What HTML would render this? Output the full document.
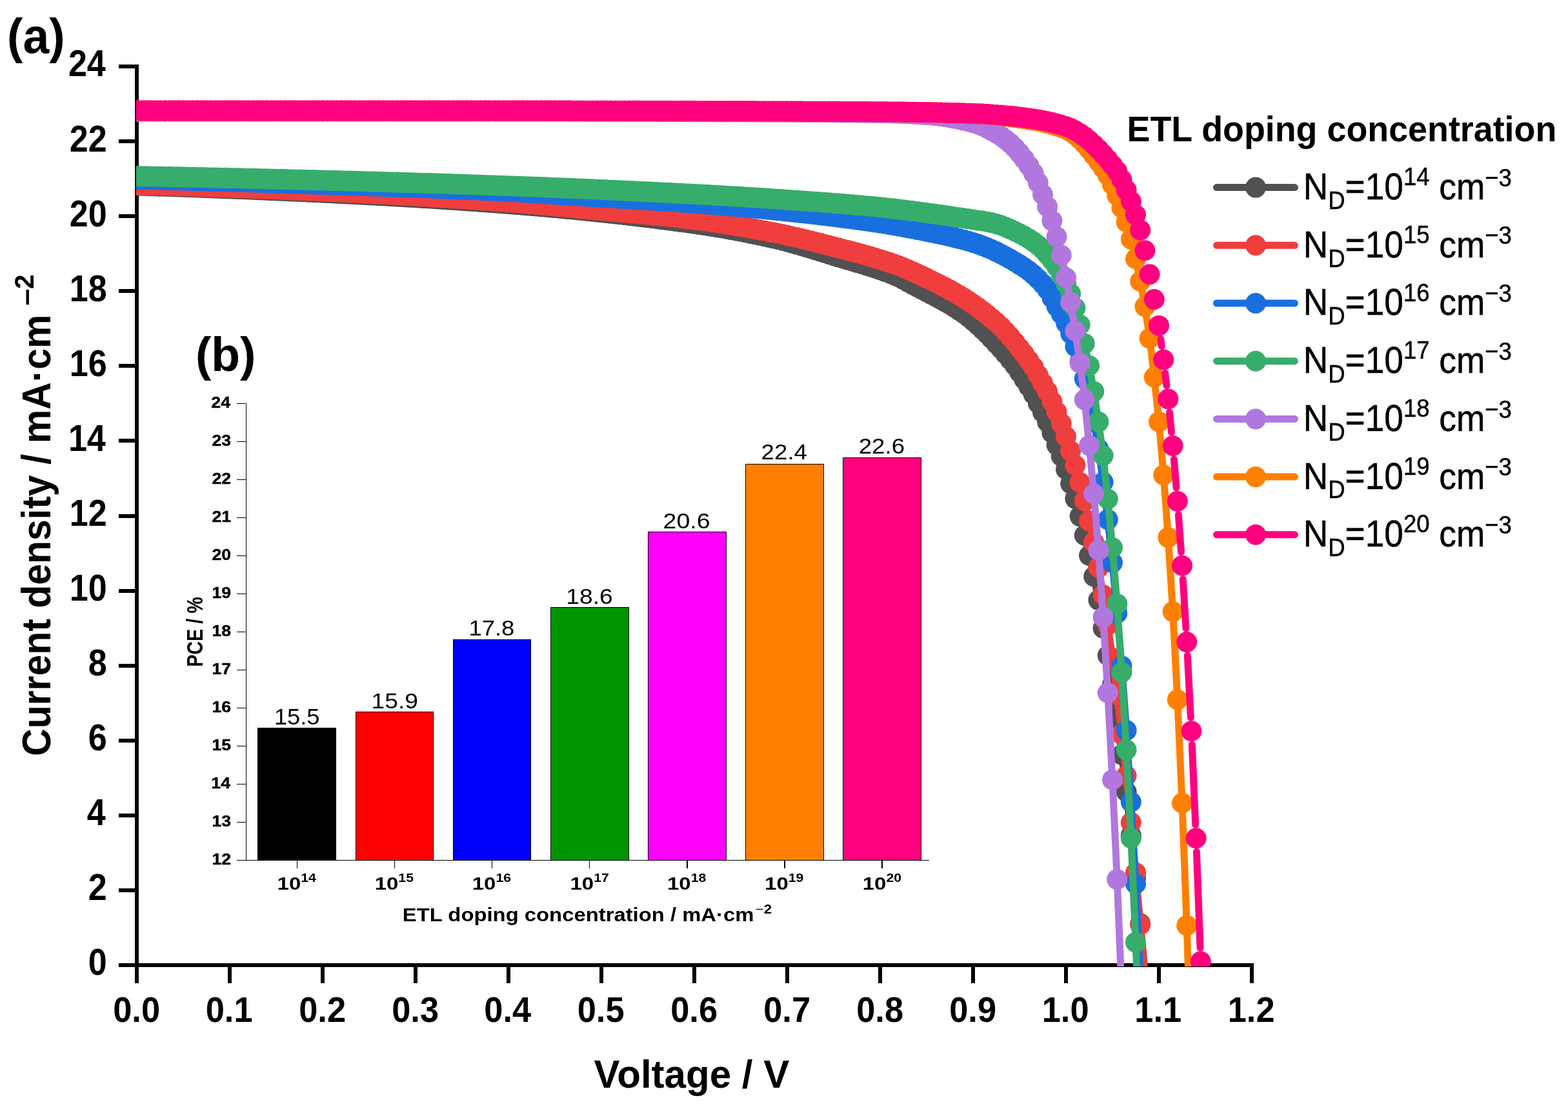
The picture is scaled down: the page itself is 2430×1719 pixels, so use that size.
<!DOCTYPE html>
<html lang="en"><head><meta charset="utf-8"><title>ETL doping concentration</title>
<style>html,body{margin:0;padding:0;background:#fff}svg{display:block}</style></head>
<body>
<svg xmlns="http://www.w3.org/2000/svg" width="2430" height="1719" viewBox="0 0 2430 1719">
<defs><clipPath id="pc"><rect x="211" y="60" width="1800" height="1438"/></clipPath></defs>
<rect width="2430" height="1719" fill="#fff"/>
<g shape-rendering="crispEdges">
<rect x="399.9" y="1128.1" width="120.3" height="205.4" fill="#000000" stroke="#000" stroke-width="1"/>
<rect x="551" y="1103.4" width="120.3" height="230.1" fill="#FF0000" stroke="#000" stroke-width="1"/>
<rect x="702.1" y="991.3" width="120.3" height="342.2" fill="#0000FF" stroke="#000" stroke-width="1"/>
<rect x="853.2" y="941.4" width="121.2" height="392.1" fill="#009400" stroke="#000" stroke-width="1"/>
<rect x="1004.3" y="824.5" width="121.2" height="509" fill="#FF00FF" stroke="#000" stroke-width="1"/>
<rect x="1155.4" y="719.6" width="121.2" height="613.9" fill="#FF8000" stroke="#000" stroke-width="1"/>
<rect x="1306.5" y="709.5" width="121.2" height="624" fill="#FF007F" stroke="#000" stroke-width="1"/>
<path d="M381.8 625 V1333.5 M367 1333.5 H1440" stroke="#000" stroke-width="1.3" fill="none"/>
<path d="M367 1333.5 H381.8 M367 1274.5 H381.8 M367 1215.5 H381.8 M367 1156.5 H381.8 M367 1097.5 H381.8 M367 1038.5 H381.8 M367 979.5 H381.8 M367 920.5 H381.8 M367 861.5 H381.8 M367 802.5 H381.8 M367 743.5 H381.8 M367 684.5 H381.8 M367 625.5 H381.8 M460.5 1333.5 V1345.7 M611.6 1333.5 V1345.7 M762.7 1333.5 V1345.7 M913.8 1333.5 V1345.7 M1064.9 1333.5 V1345.7 M1216 1333.5 V1345.7 M1367.1 1333.5 V1345.7 " stroke="#000" stroke-width="1.3" fill="none"/>
</g>
<g shape-rendering="crispEdges" fill="#000">
<rect x="209" y="100" width="6" height="1424"/>
<rect x="184" y="1493" width="1759" height="6"/>
<rect x="184" y="1493" width="27" height="6"/>
<rect x="184" y="1377" width="27" height="6"/>
<rect x="184" y="1261" width="27" height="6"/>
<rect x="184" y="1145" width="27" height="6"/>
<rect x="184" y="1029" width="27" height="6"/>
<rect x="184" y="913" width="27" height="6"/>
<rect x="184" y="797" width="27" height="6"/>
<rect x="184" y="680" width="27" height="6"/>
<rect x="184" y="564" width="27" height="6"/>
<rect x="184" y="448" width="27" height="6"/>
<rect x="184" y="332" width="27" height="6"/>
<rect x="184" y="216" width="27" height="6"/>
<rect x="184" y="100" width="27" height="6"/>
<rect x="353" y="1496" width="6" height="28"/>
<rect x="497" y="1496" width="6" height="28"/>
<rect x="641" y="1496" width="6" height="28"/>
<rect x="785" y="1496" width="6" height="28"/>
<rect x="929" y="1496" width="6" height="28"/>
<rect x="1073" y="1496" width="6" height="28"/>
<rect x="1217" y="1496" width="6" height="28"/>
<rect x="1361" y="1496" width="6" height="28"/>
<rect x="1505" y="1496" width="6" height="28"/>
<rect x="1649" y="1496" width="6" height="28"/>
<rect x="1793" y="1496" width="6" height="28"/>
<rect x="1937" y="1496" width="6" height="28"/>
</g>
<g clip-path="url(#pc)">
<path d="M212 287.61L219.2 287.81L226.4 288.01L233.6 288.22L240.8 288.43L248 288.65L255.2 288.87L262.4 289.09L269.6 289.32L276.8 289.56L284 289.8L291.2 290.04L298.4 290.29L305.6 290.54L312.8 290.8L320 291.06L327.2 291.32L334.4 291.59L341.6 291.86L348.8 292.13L356 292.41L363.2 292.69L370.4 292.98L377.6 293.27L384.8 293.56L392 293.86L399.2 294.15L406.4 294.46L413.6 294.76L420.8 295.07L428 295.38L435.2 295.69L442.4 296.01L449.6 296.33L456.8 296.65L464 296.98L471.2 297.3L478.4 297.63L485.6 297.96L492.8 298.3L500 298.63L507.2 298.97L514.4 299.32L521.6 299.66L528.8 300.02L536 300.37L543.2 300.73L550.4 301.09L557.6 301.46L564.8 301.83L572 302.21L579.2 302.59L586.4 302.98L593.6 303.37L600.8 303.77L608 304.17L615.2 304.57L622.4 304.98L629.6 305.4L636.8 305.82L644 306.25L651.2 306.68L658.4 307.12L665.6 307.56L672.8 308.01L680 308.47L687.2 308.93L694.4 309.39L701.6 309.87L708.8 310.35L716 310.83L723.2 311.32L730.4 311.82L737.6 312.33L744.8 312.84L752 313.36L759.2 313.88L766.4 314.41L773.6 314.95L780.8 315.49L788 316.05L795.2 316.61L802.4 317.18L809.6 317.76L816.8 318.35L824 318.94L831.2 319.55L838.4 320.17L845.6 320.8L852.8 321.44L860 322.09L867.2 322.74L874.4 323.41L881.6 324.09L888.8 324.78L896 325.49L903.2 326.2L910.4 326.92L917.6 327.65L924.8 328.4L932 329.16L939.2 329.92L946.4 330.7L953.6 331.49L960.8 332.3L968 333.11L975.2 333.94L982.4 334.77L989.6 335.62L996.8 336.49L1004 337.36L1011.2 338.25L1018.4 339.15L1025.6 340.06L1032.8 340.98L1040 341.92L1047.2 342.87L1054.4 343.84L1061.6 344.81L1068.8 345.8L1076 346.81L1083.2 347.84L1090.4 348.91L1097.6 350.01L1104.8 351.16L1112 352.34L1119.2 353.56L1126.4 354.81L1133.6 356.11L1140.8 357.43L1148 358.8L1155.2 360.2L1162.4 361.64L1169.6 363.11L1176.8 364.62L1184 366.16L1191.2 367.74L1198.4 369.35L1205.6 371.02L1212.8 372.79L1220 374.65L1227.2 376.6L1234.4 378.62L1241.6 380.7L1248.8 382.83L1256 385.01L1263.2 387.21L1270.4 389.44L1277.6 391.67L1284.8 393.91L1292 396.13L1299.2 398.33L1306.4 400.48L1313.6 402.6L1320.8 404.72L1328 406.84L1335.2 408.99L1342.4 411.19L1349.6 413.45L1356.8 415.8L1364 418.25L1371.2 420.82L1378.4 423.53L1385.6 426.39L1392.8 429.51L1400 433.19L1407.2 437.17L1414.4 441.14L1421.6 444.97L1428.8 448.72L1436 452.46L1443.2 456.2L1450.4 459.99L1457.6 463.87L1464.8 467.89L1472 472.06L1479.2 476.45L1486.4 481.08L1493.6 486.04L1500.8 491.51L1508 497.44L1515.2 503.71L1522.4 510.36L1529.6 517.54L1536.8 525.05L1544 532.69L1551.2 540.48L1558.4 548.75L1565.6 557.35L1572.8 566.52L1580 576.82L1587.2 587.93L1594.4 599.21L1601.6 610.95L1608.8 625.06L1616 639.25L1623.2 654.16L1630.4 671.04L1637.6 689.82L1644.8 707.24L1652 727.55L1659.2 749.61L1666.4 772.82L1673.6 800.1L1680.8 829.7L1688 861.04L1695.2 893.54L1702.4 930.11L1709.6 973.64L1716.8 1016.01L1724 1060.7L1731.2 1112.94L1738.4 1169.82L1745.6 1227.27L1752.8 1295.18L1760 1361.35L1767.2 1431.58L1774.4 1507.61" stroke="#515151" stroke-width="11" stroke-linejoin="round" stroke-linecap="round" fill="none"/>
<g fill="#515151"><circle cx="212" cy="287.61" r="16"/><circle cx="219.2" cy="287.81" r="16"/><circle cx="226.4" cy="288.01" r="16"/><circle cx="233.6" cy="288.22" r="16"/><circle cx="240.8" cy="288.43" r="16"/><circle cx="248" cy="288.65" r="16"/><circle cx="255.2" cy="288.87" r="16"/><circle cx="262.4" cy="289.09" r="16"/><circle cx="269.6" cy="289.32" r="16"/><circle cx="276.8" cy="289.56" r="16"/><circle cx="284" cy="289.8" r="16"/><circle cx="291.2" cy="290.04" r="16"/><circle cx="298.4" cy="290.29" r="16"/><circle cx="305.6" cy="290.54" r="16"/><circle cx="312.8" cy="290.8" r="16"/><circle cx="320" cy="291.06" r="16"/><circle cx="327.2" cy="291.32" r="16"/><circle cx="334.4" cy="291.59" r="16"/><circle cx="341.6" cy="291.86" r="16"/><circle cx="348.8" cy="292.13" r="16"/><circle cx="356" cy="292.41" r="16"/><circle cx="363.2" cy="292.69" r="16"/><circle cx="370.4" cy="292.98" r="16"/><circle cx="377.6" cy="293.27" r="16"/><circle cx="384.8" cy="293.56" r="16"/><circle cx="392" cy="293.86" r="16"/><circle cx="399.2" cy="294.15" r="16"/><circle cx="406.4" cy="294.46" r="16"/><circle cx="413.6" cy="294.76" r="16"/><circle cx="420.8" cy="295.07" r="16"/><circle cx="428" cy="295.38" r="16"/><circle cx="435.2" cy="295.69" r="16"/><circle cx="442.4" cy="296.01" r="16"/><circle cx="449.6" cy="296.33" r="16"/><circle cx="456.8" cy="296.65" r="16"/><circle cx="464" cy="296.98" r="16"/><circle cx="471.2" cy="297.3" r="16"/><circle cx="478.4" cy="297.63" r="16"/><circle cx="485.6" cy="297.96" r="16"/><circle cx="492.8" cy="298.3" r="16"/><circle cx="500" cy="298.63" r="16"/><circle cx="507.2" cy="298.97" r="16"/><circle cx="514.4" cy="299.32" r="16"/><circle cx="521.6" cy="299.66" r="16"/><circle cx="528.8" cy="300.02" r="16"/><circle cx="536" cy="300.37" r="16"/><circle cx="543.2" cy="300.73" r="16"/><circle cx="550.4" cy="301.09" r="16"/><circle cx="557.6" cy="301.46" r="16"/><circle cx="564.8" cy="301.83" r="16"/><circle cx="572" cy="302.21" r="16"/><circle cx="579.2" cy="302.59" r="16"/><circle cx="586.4" cy="302.98" r="16"/><circle cx="593.6" cy="303.37" r="16"/><circle cx="600.8" cy="303.77" r="16"/><circle cx="608" cy="304.17" r="16"/><circle cx="615.2" cy="304.57" r="16"/><circle cx="622.4" cy="304.98" r="16"/><circle cx="629.6" cy="305.4" r="16"/><circle cx="636.8" cy="305.82" r="16"/><circle cx="644" cy="306.25" r="16"/><circle cx="651.2" cy="306.68" r="16"/><circle cx="658.4" cy="307.12" r="16"/><circle cx="665.6" cy="307.56" r="16"/><circle cx="672.8" cy="308.01" r="16"/><circle cx="680" cy="308.47" r="16"/><circle cx="687.2" cy="308.93" r="16"/><circle cx="694.4" cy="309.39" r="16"/><circle cx="701.6" cy="309.87" r="16"/><circle cx="708.8" cy="310.35" r="16"/><circle cx="716" cy="310.83" r="16"/><circle cx="723.2" cy="311.32" r="16"/><circle cx="730.4" cy="311.82" r="16"/><circle cx="737.6" cy="312.33" r="16"/><circle cx="744.8" cy="312.84" r="16"/><circle cx="752" cy="313.36" r="16"/><circle cx="759.2" cy="313.88" r="16"/><circle cx="766.4" cy="314.41" r="16"/><circle cx="773.6" cy="314.95" r="16"/><circle cx="780.8" cy="315.49" r="16"/><circle cx="788" cy="316.05" r="16"/><circle cx="795.2" cy="316.61" r="16"/><circle cx="802.4" cy="317.18" r="16"/><circle cx="809.6" cy="317.76" r="16"/><circle cx="816.8" cy="318.35" r="16"/><circle cx="824" cy="318.94" r="16"/><circle cx="831.2" cy="319.55" r="16"/><circle cx="838.4" cy="320.17" r="16"/><circle cx="845.6" cy="320.8" r="16"/><circle cx="852.8" cy="321.44" r="16"/><circle cx="860" cy="322.09" r="16"/><circle cx="867.2" cy="322.74" r="16"/><circle cx="874.4" cy="323.41" r="16"/><circle cx="881.6" cy="324.09" r="16"/><circle cx="888.8" cy="324.78" r="16"/><circle cx="896" cy="325.49" r="16"/><circle cx="903.2" cy="326.2" r="16"/><circle cx="910.4" cy="326.92" r="16"/><circle cx="917.6" cy="327.65" r="16"/><circle cx="924.8" cy="328.4" r="16"/><circle cx="932" cy="329.16" r="16"/><circle cx="939.2" cy="329.92" r="16"/><circle cx="946.4" cy="330.7" r="16"/><circle cx="953.6" cy="331.49" r="16"/><circle cx="960.8" cy="332.3" r="16"/><circle cx="968" cy="333.11" r="16"/><circle cx="975.2" cy="333.94" r="16"/><circle cx="982.4" cy="334.77" r="16"/><circle cx="989.6" cy="335.62" r="16"/><circle cx="996.8" cy="336.49" r="16"/><circle cx="1004" cy="337.36" r="16"/><circle cx="1011.2" cy="338.25" r="16"/><circle cx="1018.4" cy="339.15" r="16"/><circle cx="1025.6" cy="340.06" r="16"/><circle cx="1032.8" cy="340.98" r="16"/><circle cx="1040" cy="341.92" r="16"/><circle cx="1047.2" cy="342.87" r="16"/><circle cx="1054.4" cy="343.84" r="16"/><circle cx="1061.6" cy="344.81" r="16"/><circle cx="1068.8" cy="345.8" r="16"/><circle cx="1076" cy="346.81" r="16"/><circle cx="1083.2" cy="347.84" r="16"/><circle cx="1090.4" cy="348.91" r="16"/><circle cx="1097.6" cy="350.01" r="16"/><circle cx="1104.8" cy="351.16" r="16"/><circle cx="1112" cy="352.34" r="16"/><circle cx="1119.2" cy="353.56" r="16"/><circle cx="1126.4" cy="354.81" r="16"/><circle cx="1133.6" cy="356.11" r="16"/><circle cx="1140.8" cy="357.43" r="16"/><circle cx="1148" cy="358.8" r="16"/><circle cx="1155.2" cy="360.2" r="16"/><circle cx="1162.4" cy="361.64" r="16"/><circle cx="1169.6" cy="363.11" r="16"/><circle cx="1176.8" cy="364.62" r="16"/><circle cx="1184" cy="366.16" r="16"/><circle cx="1191.2" cy="367.74" r="16"/><circle cx="1198.4" cy="369.35" r="16"/><circle cx="1205.6" cy="371.02" r="16"/><circle cx="1212.8" cy="372.79" r="16"/><circle cx="1220" cy="374.65" r="16"/><circle cx="1227.2" cy="376.6" r="16"/><circle cx="1234.4" cy="378.62" r="16"/><circle cx="1241.6" cy="380.7" r="16"/><circle cx="1248.8" cy="382.83" r="16"/><circle cx="1256" cy="385.01" r="16"/><circle cx="1263.2" cy="387.21" r="16"/><circle cx="1270.4" cy="389.44" r="16"/><circle cx="1277.6" cy="391.67" r="16"/><circle cx="1284.8" cy="393.91" r="16"/><circle cx="1292" cy="396.13" r="16"/><circle cx="1299.2" cy="398.33" r="16"/><circle cx="1306.4" cy="400.48" r="16"/><circle cx="1313.6" cy="402.6" r="16"/><circle cx="1320.8" cy="404.72" r="16"/><circle cx="1328" cy="406.84" r="16"/><circle cx="1335.2" cy="408.99" r="16"/><circle cx="1342.4" cy="411.19" r="16"/><circle cx="1349.6" cy="413.45" r="16"/><circle cx="1356.8" cy="415.8" r="16"/><circle cx="1364" cy="418.25" r="16"/><circle cx="1371.2" cy="420.82" r="16"/><circle cx="1378.4" cy="423.53" r="16"/><circle cx="1385.6" cy="426.39" r="16"/><circle cx="1392.8" cy="429.51" r="16"/><circle cx="1400" cy="433.19" r="16"/><circle cx="1407.2" cy="437.17" r="16"/><circle cx="1414.4" cy="441.14" r="16"/><circle cx="1421.6" cy="444.97" r="16"/><circle cx="1428.8" cy="448.72" r="16"/><circle cx="1436" cy="452.46" r="16"/><circle cx="1443.2" cy="456.2" r="16"/><circle cx="1450.4" cy="459.99" r="16"/><circle cx="1457.6" cy="463.87" r="16"/><circle cx="1464.8" cy="467.89" r="16"/><circle cx="1472" cy="472.06" r="16"/><circle cx="1479.2" cy="476.45" r="16"/><circle cx="1486.4" cy="481.08" r="16"/><circle cx="1493.6" cy="486.04" r="16"/><circle cx="1500.8" cy="491.51" r="16"/><circle cx="1508" cy="497.44" r="16"/><circle cx="1515.2" cy="503.71" r="16"/><circle cx="1522.4" cy="510.36" r="16"/><circle cx="1529.6" cy="517.54" r="16"/><circle cx="1536.8" cy="525.05" r="16"/><circle cx="1544" cy="532.69" r="16"/><circle cx="1551.2" cy="540.48" r="16"/><circle cx="1558.4" cy="548.75" r="16"/><circle cx="1565.6" cy="557.35" r="16"/><circle cx="1572.8" cy="566.52" r="16"/><circle cx="1580" cy="576.82" r="16"/><circle cx="1587.2" cy="587.93" r="16"/><circle cx="1594.4" cy="599.21" r="16"/><circle cx="1601.6" cy="610.95" r="16"/><circle cx="1608.8" cy="625.06" r="16"/><circle cx="1616" cy="639.25" r="16"/><circle cx="1623.2" cy="654.16" r="16"/><circle cx="1630.4" cy="671.04" r="16"/><circle cx="1637.6" cy="689.82" r="16"/><circle cx="1644.8" cy="707.24" r="16"/><circle cx="1652" cy="727.55" r="16"/><circle cx="1659.2" cy="749.61" r="16"/><circle cx="1666.4" cy="772.82" r="16"/><circle cx="1673.6" cy="800.1" r="16"/><circle cx="1680.8" cy="829.7" r="16"/><circle cx="1688" cy="861.04" r="16"/><circle cx="1695.2" cy="893.54" r="16"/><circle cx="1702.4" cy="930.11" r="16"/><circle cx="1709.6" cy="973.64" r="16"/><circle cx="1716.8" cy="1016.01" r="16"/><circle cx="1724" cy="1060.7" r="16"/><circle cx="1731.2" cy="1112.94" r="16"/><circle cx="1738.4" cy="1169.82" r="16"/><circle cx="1745.6" cy="1227.27" r="16"/><circle cx="1752.8" cy="1295.18" r="16"/><circle cx="1760" cy="1361.35" r="16"/><circle cx="1767.2" cy="1431.58" r="16"/></g>
<path d="M212 286.45L219.2 286.61L226.4 286.78L233.6 286.95L240.8 287.13L248 287.31L255.2 287.5L262.4 287.69L269.6 287.89L276.8 288.09L284 288.3L291.2 288.52L298.4 288.73L305.6 288.95L312.8 289.18L320 289.41L327.2 289.64L334.4 289.88L341.6 290.13L348.8 290.37L356 290.62L363.2 290.88L370.4 291.13L377.6 291.4L384.8 291.66L392 291.93L399.2 292.2L406.4 292.48L413.6 292.76L420.8 293.04L428 293.32L435.2 293.61L442.4 293.9L449.6 294.19L456.8 294.49L464 294.79L471.2 295.09L478.4 295.39L485.6 295.7L492.8 296L500 296.31L507.2 296.63L514.4 296.95L521.6 297.27L528.8 297.6L536 297.94L543.2 298.28L550.4 298.63L557.6 298.98L564.8 299.34L572 299.71L579.2 300.08L586.4 300.45L593.6 300.83L600.8 301.22L608 301.61L615.2 302.01L622.4 302.41L629.6 302.82L636.8 303.23L644 303.65L651.2 304.08L658.4 304.51L665.6 304.94L672.8 305.38L680 305.83L687.2 306.28L694.4 306.74L701.6 307.2L708.8 307.67L716 308.14L723.2 308.62L730.4 309.1L737.6 309.59L744.8 310.08L752 310.58L759.2 311.08L766.4 311.59L773.6 312.1L780.8 312.62L788 313.14L795.2 313.69L802.4 314.25L809.6 314.84L816.8 315.46L824 316.09L831.2 316.73L838.4 317.39L845.6 318.06L852.8 318.74L860 319.42L867.2 320.11L874.4 320.79L881.6 321.47L888.8 322.14L896 322.81L903.2 323.46L910.4 324.11L917.6 324.75L924.8 325.39L932 326.03L939.2 326.67L946.4 327.31L953.6 327.95L960.8 328.59L968 329.23L975.2 329.89L982.4 330.55L989.6 331.22L996.8 331.89L1004 332.58L1011.2 333.29L1018.4 334L1025.6 334.74L1032.8 335.49L1040 336.26L1047.2 337.04L1054.4 337.85L1061.6 338.69L1068.8 339.54L1076 340.42L1083.2 341.34L1090.4 342.29L1097.6 343.28L1104.8 344.3L1112 345.36L1119.2 346.45L1126.4 347.57L1133.6 348.72L1140.8 349.91L1148 351.12L1155.2 352.36L1162.4 353.63L1169.6 354.93L1176.8 356.24L1184 357.59L1191.2 358.95L1198.4 360.34L1205.6 361.76L1212.8 363.25L1220 364.79L1227.2 366.38L1234.4 368.03L1241.6 369.71L1248.8 371.44L1256 373.2L1263.2 375L1270.4 376.82L1277.6 378.66L1284.8 380.52L1292 382.39L1299.2 384.27L1306.4 386.14L1313.6 388.03L1320.8 389.92L1328 391.84L1335.2 393.8L1342.4 395.8L1349.6 397.86L1356.8 399.98L1364 402.18L1371.2 404.46L1378.4 406.83L1385.6 409.31L1392.8 411.91L1400 414.72L1407.2 417.72L1414.4 420.89L1421.6 424.19L1428.8 427.6L1436 431.1L1443.2 434.65L1450.4 438.24L1457.6 441.84L1464.8 445.52L1472 449.32L1479.2 453.28L1486.4 457.44L1493.6 461.84L1500.8 466.49L1508 471.37L1515.2 476.5L1522.4 481.85L1529.6 487.44L1536.8 493.31L1544 499.56L1551.2 506.3L1558.4 513.71L1565.6 521.85L1572.8 530.54L1580 539.58L1587.2 548.87L1594.4 558.79L1601.6 568.88L1608.8 581.2L1616 594.03L1623.2 606.81L1630.4 622.38L1637.6 638.55L1644.8 656.47L1652 676.47L1659.2 699.11L1666.4 721.17L1673.6 747.86L1680.8 776.3L1688 807.65L1695.2 840.73L1702.4 879.62L1709.6 921.98L1716.8 969L1724 1020.07L1731.2 1077.53L1738.4 1138.47L1745.6 1202.32L1752.8 1274.87L1760 1352.64L1767.2 1433.32L1774.4 1519.22" stroke="#F03E3E" stroke-width="11" stroke-linejoin="round" stroke-linecap="round" fill="none"/>
<g fill="#F03E3E"><circle cx="212" cy="286.45" r="16"/><circle cx="219.2" cy="286.61" r="16"/><circle cx="226.4" cy="286.78" r="16"/><circle cx="233.6" cy="286.95" r="16"/><circle cx="240.8" cy="287.13" r="16"/><circle cx="248" cy="287.31" r="16"/><circle cx="255.2" cy="287.5" r="16"/><circle cx="262.4" cy="287.69" r="16"/><circle cx="269.6" cy="287.89" r="16"/><circle cx="276.8" cy="288.09" r="16"/><circle cx="284" cy="288.3" r="16"/><circle cx="291.2" cy="288.52" r="16"/><circle cx="298.4" cy="288.73" r="16"/><circle cx="305.6" cy="288.95" r="16"/><circle cx="312.8" cy="289.18" r="16"/><circle cx="320" cy="289.41" r="16"/><circle cx="327.2" cy="289.64" r="16"/><circle cx="334.4" cy="289.88" r="16"/><circle cx="341.6" cy="290.13" r="16"/><circle cx="348.8" cy="290.37" r="16"/><circle cx="356" cy="290.62" r="16"/><circle cx="363.2" cy="290.88" r="16"/><circle cx="370.4" cy="291.13" r="16"/><circle cx="377.6" cy="291.4" r="16"/><circle cx="384.8" cy="291.66" r="16"/><circle cx="392" cy="291.93" r="16"/><circle cx="399.2" cy="292.2" r="16"/><circle cx="406.4" cy="292.48" r="16"/><circle cx="413.6" cy="292.76" r="16"/><circle cx="420.8" cy="293.04" r="16"/><circle cx="428" cy="293.32" r="16"/><circle cx="435.2" cy="293.61" r="16"/><circle cx="442.4" cy="293.9" r="16"/><circle cx="449.6" cy="294.19" r="16"/><circle cx="456.8" cy="294.49" r="16"/><circle cx="464" cy="294.79" r="16"/><circle cx="471.2" cy="295.09" r="16"/><circle cx="478.4" cy="295.39" r="16"/><circle cx="485.6" cy="295.7" r="16"/><circle cx="492.8" cy="296" r="16"/><circle cx="500" cy="296.31" r="16"/><circle cx="507.2" cy="296.63" r="16"/><circle cx="514.4" cy="296.95" r="16"/><circle cx="521.6" cy="297.27" r="16"/><circle cx="528.8" cy="297.6" r="16"/><circle cx="536" cy="297.94" r="16"/><circle cx="543.2" cy="298.28" r="16"/><circle cx="550.4" cy="298.63" r="16"/><circle cx="557.6" cy="298.98" r="16"/><circle cx="564.8" cy="299.34" r="16"/><circle cx="572" cy="299.71" r="16"/><circle cx="579.2" cy="300.08" r="16"/><circle cx="586.4" cy="300.45" r="16"/><circle cx="593.6" cy="300.83" r="16"/><circle cx="600.8" cy="301.22" r="16"/><circle cx="608" cy="301.61" r="16"/><circle cx="615.2" cy="302.01" r="16"/><circle cx="622.4" cy="302.41" r="16"/><circle cx="629.6" cy="302.82" r="16"/><circle cx="636.8" cy="303.23" r="16"/><circle cx="644" cy="303.65" r="16"/><circle cx="651.2" cy="304.08" r="16"/><circle cx="658.4" cy="304.51" r="16"/><circle cx="665.6" cy="304.94" r="16"/><circle cx="672.8" cy="305.38" r="16"/><circle cx="680" cy="305.83" r="16"/><circle cx="687.2" cy="306.28" r="16"/><circle cx="694.4" cy="306.74" r="16"/><circle cx="701.6" cy="307.2" r="16"/><circle cx="708.8" cy="307.67" r="16"/><circle cx="716" cy="308.14" r="16"/><circle cx="723.2" cy="308.62" r="16"/><circle cx="730.4" cy="309.1" r="16"/><circle cx="737.6" cy="309.59" r="16"/><circle cx="744.8" cy="310.08" r="16"/><circle cx="752" cy="310.58" r="16"/><circle cx="759.2" cy="311.08" r="16"/><circle cx="766.4" cy="311.59" r="16"/><circle cx="773.6" cy="312.1" r="16"/><circle cx="780.8" cy="312.62" r="16"/><circle cx="788" cy="313.14" r="16"/><circle cx="795.2" cy="313.69" r="16"/><circle cx="802.4" cy="314.25" r="16"/><circle cx="809.6" cy="314.84" r="16"/><circle cx="816.8" cy="315.46" r="16"/><circle cx="824" cy="316.09" r="16"/><circle cx="831.2" cy="316.73" r="16"/><circle cx="838.4" cy="317.39" r="16"/><circle cx="845.6" cy="318.06" r="16"/><circle cx="852.8" cy="318.74" r="16"/><circle cx="860" cy="319.42" r="16"/><circle cx="867.2" cy="320.11" r="16"/><circle cx="874.4" cy="320.79" r="16"/><circle cx="881.6" cy="321.47" r="16"/><circle cx="888.8" cy="322.14" r="16"/><circle cx="896" cy="322.81" r="16"/><circle cx="903.2" cy="323.46" r="16"/><circle cx="910.4" cy="324.11" r="16"/><circle cx="917.6" cy="324.75" r="16"/><circle cx="924.8" cy="325.39" r="16"/><circle cx="932" cy="326.03" r="16"/><circle cx="939.2" cy="326.67" r="16"/><circle cx="946.4" cy="327.31" r="16"/><circle cx="953.6" cy="327.95" r="16"/><circle cx="960.8" cy="328.59" r="16"/><circle cx="968" cy="329.23" r="16"/><circle cx="975.2" cy="329.89" r="16"/><circle cx="982.4" cy="330.55" r="16"/><circle cx="989.6" cy="331.22" r="16"/><circle cx="996.8" cy="331.89" r="16"/><circle cx="1004" cy="332.58" r="16"/><circle cx="1011.2" cy="333.29" r="16"/><circle cx="1018.4" cy="334" r="16"/><circle cx="1025.6" cy="334.74" r="16"/><circle cx="1032.8" cy="335.49" r="16"/><circle cx="1040" cy="336.26" r="16"/><circle cx="1047.2" cy="337.04" r="16"/><circle cx="1054.4" cy="337.85" r="16"/><circle cx="1061.6" cy="338.69" r="16"/><circle cx="1068.8" cy="339.54" r="16"/><circle cx="1076" cy="340.42" r="16"/><circle cx="1083.2" cy="341.34" r="16"/><circle cx="1090.4" cy="342.29" r="16"/><circle cx="1097.6" cy="343.28" r="16"/><circle cx="1104.8" cy="344.3" r="16"/><circle cx="1112" cy="345.36" r="16"/><circle cx="1119.2" cy="346.45" r="16"/><circle cx="1126.4" cy="347.57" r="16"/><circle cx="1133.6" cy="348.72" r="16"/><circle cx="1140.8" cy="349.91" r="16"/><circle cx="1148" cy="351.12" r="16"/><circle cx="1155.2" cy="352.36" r="16"/><circle cx="1162.4" cy="353.63" r="16"/><circle cx="1169.6" cy="354.93" r="16"/><circle cx="1176.8" cy="356.24" r="16"/><circle cx="1184" cy="357.59" r="16"/><circle cx="1191.2" cy="358.95" r="16"/><circle cx="1198.4" cy="360.34" r="16"/><circle cx="1205.6" cy="361.76" r="16"/><circle cx="1212.8" cy="363.25" r="16"/><circle cx="1220" cy="364.79" r="16"/><circle cx="1227.2" cy="366.38" r="16"/><circle cx="1234.4" cy="368.03" r="16"/><circle cx="1241.6" cy="369.71" r="16"/><circle cx="1248.8" cy="371.44" r="16"/><circle cx="1256" cy="373.2" r="16"/><circle cx="1263.2" cy="375" r="16"/><circle cx="1270.4" cy="376.82" r="16"/><circle cx="1277.6" cy="378.66" r="16"/><circle cx="1284.8" cy="380.52" r="16"/><circle cx="1292" cy="382.39" r="16"/><circle cx="1299.2" cy="384.27" r="16"/><circle cx="1306.4" cy="386.14" r="16"/><circle cx="1313.6" cy="388.03" r="16"/><circle cx="1320.8" cy="389.92" r="16"/><circle cx="1328" cy="391.84" r="16"/><circle cx="1335.2" cy="393.8" r="16"/><circle cx="1342.4" cy="395.8" r="16"/><circle cx="1349.6" cy="397.86" r="16"/><circle cx="1356.8" cy="399.98" r="16"/><circle cx="1364" cy="402.18" r="16"/><circle cx="1371.2" cy="404.46" r="16"/><circle cx="1378.4" cy="406.83" r="16"/><circle cx="1385.6" cy="409.31" r="16"/><circle cx="1392.8" cy="411.91" r="16"/><circle cx="1400" cy="414.72" r="16"/><circle cx="1407.2" cy="417.72" r="16"/><circle cx="1414.4" cy="420.89" r="16"/><circle cx="1421.6" cy="424.19" r="16"/><circle cx="1428.8" cy="427.6" r="16"/><circle cx="1436" cy="431.1" r="16"/><circle cx="1443.2" cy="434.65" r="16"/><circle cx="1450.4" cy="438.24" r="16"/><circle cx="1457.6" cy="441.84" r="16"/><circle cx="1464.8" cy="445.52" r="16"/><circle cx="1472" cy="449.32" r="16"/><circle cx="1479.2" cy="453.28" r="16"/><circle cx="1486.4" cy="457.44" r="16"/><circle cx="1493.6" cy="461.84" r="16"/><circle cx="1500.8" cy="466.49" r="16"/><circle cx="1508" cy="471.37" r="16"/><circle cx="1515.2" cy="476.5" r="16"/><circle cx="1522.4" cy="481.85" r="16"/><circle cx="1529.6" cy="487.44" r="16"/><circle cx="1536.8" cy="493.31" r="16"/><circle cx="1544" cy="499.56" r="16"/><circle cx="1551.2" cy="506.3" r="16"/><circle cx="1558.4" cy="513.71" r="16"/><circle cx="1565.6" cy="521.85" r="16"/><circle cx="1572.8" cy="530.54" r="16"/><circle cx="1580" cy="539.58" r="16"/><circle cx="1587.2" cy="548.87" r="16"/><circle cx="1594.4" cy="558.79" r="16"/><circle cx="1601.6" cy="568.88" r="16"/><circle cx="1608.8" cy="581.2" r="16"/><circle cx="1616" cy="594.03" r="16"/><circle cx="1623.2" cy="606.81" r="16"/><circle cx="1630.4" cy="622.38" r="16"/><circle cx="1637.6" cy="638.55" r="16"/><circle cx="1644.8" cy="656.47" r="16"/><circle cx="1652" cy="676.47" r="16"/><circle cx="1659.2" cy="699.11" r="16"/><circle cx="1666.4" cy="721.17" r="16"/><circle cx="1673.6" cy="747.86" r="16"/><circle cx="1680.8" cy="776.3" r="16"/><circle cx="1688" cy="807.65" r="16"/><circle cx="1695.2" cy="840.73" r="16"/><circle cx="1702.4" cy="879.62" r="16"/><circle cx="1709.6" cy="921.98" r="16"/><circle cx="1716.8" cy="969" r="16"/><circle cx="1724" cy="1020.07" r="16"/><circle cx="1731.2" cy="1077.53" r="16"/><circle cx="1738.4" cy="1138.47" r="16"/><circle cx="1745.6" cy="1202.32" r="16"/><circle cx="1752.8" cy="1274.87" r="16"/><circle cx="1760" cy="1352.64" r="16"/><circle cx="1767.2" cy="1433.32" r="16"/></g>
<path d="M212 277.74L219.2 277.91L226.4 278.08L233.6 278.25L240.8 278.42L248 278.6L255.2 278.78L262.4 278.96L269.6 279.14L276.8 279.32L284 279.51L291.2 279.7L298.4 279.89L305.6 280.08L312.8 280.27L320 280.47L327.2 280.66L334.4 280.86L341.6 281.06L348.8 281.26L356 281.47L363.2 281.67L370.4 281.88L377.6 282.09L384.8 282.3L392 282.51L399.2 282.72L406.4 282.94L413.6 283.16L420.8 283.37L428 283.59L435.2 283.81L442.4 284.04L449.6 284.26L456.8 284.49L464 284.71L471.2 284.94L478.4 285.17L485.6 285.4L492.8 285.63L500 285.87L507.2 286.1L514.4 286.33L521.6 286.57L528.8 286.8L536 287.04L543.2 287.28L550.4 287.52L557.6 287.76L564.8 288L572 288.24L579.2 288.48L586.4 288.73L593.6 288.98L600.8 289.23L608 289.48L615.2 289.73L622.4 289.99L629.6 290.25L636.8 290.51L644 290.78L651.2 291.04L658.4 291.31L665.6 291.59L672.8 291.87L680 292.15L687.2 292.43L694.4 292.72L701.6 293.01L708.8 293.31L716 293.61L723.2 293.92L730.4 294.23L737.6 294.54L744.8 294.86L752 295.19L759.2 295.52L766.4 295.85L773.6 296.2L780.8 296.54L788 296.89L795.2 297.26L802.4 297.65L809.6 298.06L816.8 298.49L824 298.94L831.2 299.4L838.4 299.86L845.6 300.34L852.8 300.81L860 301.29L867.2 301.77L874.4 302.24L881.6 302.71L888.8 303.16L896 303.61L903.2 304.05L910.4 304.49L917.6 304.92L924.8 305.35L932 305.77L939.2 306.2L946.4 306.62L953.6 307.05L960.8 307.47L968 307.9L975.2 308.32L982.4 308.75L989.6 309.19L996.8 309.62L1004 310.06L1011.2 310.51L1018.4 310.96L1025.6 311.42L1032.8 311.89L1040 312.36L1047.2 312.85L1054.4 313.34L1061.6 313.84L1068.8 314.36L1076 314.89L1083.2 315.42L1090.4 315.97L1097.6 316.53L1104.8 317.1L1112 317.68L1119.2 318.27L1126.4 318.87L1133.6 319.48L1140.8 320.1L1148 320.73L1155.2 321.38L1162.4 322.03L1169.6 322.7L1176.8 323.37L1184 324.06L1191.2 324.76L1198.4 325.46L1205.6 326.18L1212.8 326.91L1220 327.65L1227.2 328.41L1234.4 329.17L1241.6 329.95L1248.8 330.75L1256 331.55L1263.2 332.37L1270.4 333.21L1277.6 334.06L1284.8 334.93L1292 335.81L1299.2 336.72L1306.4 337.63L1313.6 338.57L1320.8 339.52L1328 340.49L1335.2 341.49L1342.4 342.5L1349.6 343.53L1356.8 344.58L1364 345.65L1371.2 346.76L1378.4 347.95L1385.6 349.19L1392.8 350.47L1400 351.79L1407.2 353.15L1414.4 354.52L1421.6 355.9L1428.8 357.3L1436 358.71L1443.2 360.16L1450.4 361.64L1457.6 363.17L1464.8 364.76L1472 366.4L1479.2 368.12L1486.4 369.92L1493.6 371.79L1500.8 373.77L1508 375.91L1515.2 378.26L1522.4 380.86L1529.6 383.71L1536.8 386.8L1544 390.12L1551.2 393.67L1558.4 397.45L1565.6 401.44L1572.8 405.66L1580 410.09L1587.2 414.73L1594.4 419.71L1601.6 425.81L1608.8 432.47L1616 439.88L1623.2 448.98L1630.4 461.81L1637.6 475.08L1644.8 486.68L1652 500.61L1659.2 516.87L1666.4 537.18L1673.6 560.4L1680.8 587.09L1688 617.85L1695.2 653.84L1702.4 695.63L1709.6 747.28L1716.8 805.32L1724 872.07L1731.2 950.42L1738.4 1032.26L1745.6 1132.09L1752.8 1242.95L1760 1370.05L1767.2 1513.41" stroke="#1A6FDF" stroke-width="11" stroke-linejoin="round" stroke-linecap="round" fill="none"/>
<g fill="#1A6FDF"><circle cx="212" cy="277.74" r="16"/><circle cx="219.2" cy="277.91" r="16"/><circle cx="226.4" cy="278.08" r="16"/><circle cx="233.6" cy="278.25" r="16"/><circle cx="240.8" cy="278.42" r="16"/><circle cx="248" cy="278.6" r="16"/><circle cx="255.2" cy="278.78" r="16"/><circle cx="262.4" cy="278.96" r="16"/><circle cx="269.6" cy="279.14" r="16"/><circle cx="276.8" cy="279.32" r="16"/><circle cx="284" cy="279.51" r="16"/><circle cx="291.2" cy="279.7" r="16"/><circle cx="298.4" cy="279.89" r="16"/><circle cx="305.6" cy="280.08" r="16"/><circle cx="312.8" cy="280.27" r="16"/><circle cx="320" cy="280.47" r="16"/><circle cx="327.2" cy="280.66" r="16"/><circle cx="334.4" cy="280.86" r="16"/><circle cx="341.6" cy="281.06" r="16"/><circle cx="348.8" cy="281.26" r="16"/><circle cx="356" cy="281.47" r="16"/><circle cx="363.2" cy="281.67" r="16"/><circle cx="370.4" cy="281.88" r="16"/><circle cx="377.6" cy="282.09" r="16"/><circle cx="384.8" cy="282.3" r="16"/><circle cx="392" cy="282.51" r="16"/><circle cx="399.2" cy="282.72" r="16"/><circle cx="406.4" cy="282.94" r="16"/><circle cx="413.6" cy="283.16" r="16"/><circle cx="420.8" cy="283.37" r="16"/><circle cx="428" cy="283.59" r="16"/><circle cx="435.2" cy="283.81" r="16"/><circle cx="442.4" cy="284.04" r="16"/><circle cx="449.6" cy="284.26" r="16"/><circle cx="456.8" cy="284.49" r="16"/><circle cx="464" cy="284.71" r="16"/><circle cx="471.2" cy="284.94" r="16"/><circle cx="478.4" cy="285.17" r="16"/><circle cx="485.6" cy="285.4" r="16"/><circle cx="492.8" cy="285.63" r="16"/><circle cx="500" cy="285.87" r="16"/><circle cx="507.2" cy="286.1" r="16"/><circle cx="514.4" cy="286.33" r="16"/><circle cx="521.6" cy="286.57" r="16"/><circle cx="528.8" cy="286.8" r="16"/><circle cx="536" cy="287.04" r="16"/><circle cx="543.2" cy="287.28" r="16"/><circle cx="550.4" cy="287.52" r="16"/><circle cx="557.6" cy="287.76" r="16"/><circle cx="564.8" cy="288" r="16"/><circle cx="572" cy="288.24" r="16"/><circle cx="579.2" cy="288.48" r="16"/><circle cx="586.4" cy="288.73" r="16"/><circle cx="593.6" cy="288.98" r="16"/><circle cx="600.8" cy="289.23" r="16"/><circle cx="608" cy="289.48" r="16"/><circle cx="615.2" cy="289.73" r="16"/><circle cx="622.4" cy="289.99" r="16"/><circle cx="629.6" cy="290.25" r="16"/><circle cx="636.8" cy="290.51" r="16"/><circle cx="644" cy="290.78" r="16"/><circle cx="651.2" cy="291.04" r="16"/><circle cx="658.4" cy="291.31" r="16"/><circle cx="665.6" cy="291.59" r="16"/><circle cx="672.8" cy="291.87" r="16"/><circle cx="680" cy="292.15" r="16"/><circle cx="687.2" cy="292.43" r="16"/><circle cx="694.4" cy="292.72" r="16"/><circle cx="701.6" cy="293.01" r="16"/><circle cx="708.8" cy="293.31" r="16"/><circle cx="716" cy="293.61" r="16"/><circle cx="723.2" cy="293.92" r="16"/><circle cx="730.4" cy="294.23" r="16"/><circle cx="737.6" cy="294.54" r="16"/><circle cx="744.8" cy="294.86" r="16"/><circle cx="752" cy="295.19" r="16"/><circle cx="759.2" cy="295.52" r="16"/><circle cx="766.4" cy="295.85" r="16"/><circle cx="773.6" cy="296.2" r="16"/><circle cx="780.8" cy="296.54" r="16"/><circle cx="788" cy="296.89" r="16"/><circle cx="795.2" cy="297.26" r="16"/><circle cx="802.4" cy="297.65" r="16"/><circle cx="809.6" cy="298.06" r="16"/><circle cx="816.8" cy="298.49" r="16"/><circle cx="824" cy="298.94" r="16"/><circle cx="831.2" cy="299.4" r="16"/><circle cx="838.4" cy="299.86" r="16"/><circle cx="845.6" cy="300.34" r="16"/><circle cx="852.8" cy="300.81" r="16"/><circle cx="860" cy="301.29" r="16"/><circle cx="867.2" cy="301.77" r="16"/><circle cx="874.4" cy="302.24" r="16"/><circle cx="881.6" cy="302.71" r="16"/><circle cx="888.8" cy="303.16" r="16"/><circle cx="896" cy="303.61" r="16"/><circle cx="903.2" cy="304.05" r="16"/><circle cx="910.4" cy="304.49" r="16"/><circle cx="917.6" cy="304.92" r="16"/><circle cx="924.8" cy="305.35" r="16"/><circle cx="932" cy="305.77" r="16"/><circle cx="939.2" cy="306.2" r="16"/><circle cx="946.4" cy="306.62" r="16"/><circle cx="953.6" cy="307.05" r="16"/><circle cx="960.8" cy="307.47" r="16"/><circle cx="968" cy="307.9" r="16"/><circle cx="975.2" cy="308.32" r="16"/><circle cx="982.4" cy="308.75" r="16"/><circle cx="989.6" cy="309.19" r="16"/><circle cx="996.8" cy="309.62" r="16"/><circle cx="1004" cy="310.06" r="16"/><circle cx="1011.2" cy="310.51" r="16"/><circle cx="1018.4" cy="310.96" r="16"/><circle cx="1025.6" cy="311.42" r="16"/><circle cx="1032.8" cy="311.89" r="16"/><circle cx="1040" cy="312.36" r="16"/><circle cx="1047.2" cy="312.85" r="16"/><circle cx="1054.4" cy="313.34" r="16"/><circle cx="1061.6" cy="313.84" r="16"/><circle cx="1068.8" cy="314.36" r="16"/><circle cx="1076" cy="314.89" r="16"/><circle cx="1083.2" cy="315.42" r="16"/><circle cx="1090.4" cy="315.97" r="16"/><circle cx="1097.6" cy="316.53" r="16"/><circle cx="1104.8" cy="317.1" r="16"/><circle cx="1112" cy="317.68" r="16"/><circle cx="1119.2" cy="318.27" r="16"/><circle cx="1126.4" cy="318.87" r="16"/><circle cx="1133.6" cy="319.48" r="16"/><circle cx="1140.8" cy="320.1" r="16"/><circle cx="1148" cy="320.73" r="16"/><circle cx="1155.2" cy="321.38" r="16"/><circle cx="1162.4" cy="322.03" r="16"/><circle cx="1169.6" cy="322.7" r="16"/><circle cx="1176.8" cy="323.37" r="16"/><circle cx="1184" cy="324.06" r="16"/><circle cx="1191.2" cy="324.76" r="16"/><circle cx="1198.4" cy="325.46" r="16"/><circle cx="1205.6" cy="326.18" r="16"/><circle cx="1212.8" cy="326.91" r="16"/><circle cx="1220" cy="327.65" r="16"/><circle cx="1227.2" cy="328.41" r="16"/><circle cx="1234.4" cy="329.17" r="16"/><circle cx="1241.6" cy="329.95" r="16"/><circle cx="1248.8" cy="330.75" r="16"/><circle cx="1256" cy="331.55" r="16"/><circle cx="1263.2" cy="332.37" r="16"/><circle cx="1270.4" cy="333.21" r="16"/><circle cx="1277.6" cy="334.06" r="16"/><circle cx="1284.8" cy="334.93" r="16"/><circle cx="1292" cy="335.81" r="16"/><circle cx="1299.2" cy="336.72" r="16"/><circle cx="1306.4" cy="337.63" r="16"/><circle cx="1313.6" cy="338.57" r="16"/><circle cx="1320.8" cy="339.52" r="16"/><circle cx="1328" cy="340.49" r="16"/><circle cx="1335.2" cy="341.49" r="16"/><circle cx="1342.4" cy="342.5" r="16"/><circle cx="1349.6" cy="343.53" r="16"/><circle cx="1356.8" cy="344.58" r="16"/><circle cx="1364" cy="345.65" r="16"/><circle cx="1371.2" cy="346.76" r="16"/><circle cx="1378.4" cy="347.95" r="16"/><circle cx="1385.6" cy="349.19" r="16"/><circle cx="1392.8" cy="350.47" r="16"/><circle cx="1400" cy="351.79" r="16"/><circle cx="1407.2" cy="353.15" r="16"/><circle cx="1414.4" cy="354.52" r="16"/><circle cx="1421.6" cy="355.9" r="16"/><circle cx="1428.8" cy="357.3" r="16"/><circle cx="1436" cy="358.71" r="16"/><circle cx="1443.2" cy="360.16" r="16"/><circle cx="1450.4" cy="361.64" r="16"/><circle cx="1457.6" cy="363.17" r="16"/><circle cx="1464.8" cy="364.76" r="16"/><circle cx="1472" cy="366.4" r="16"/><circle cx="1479.2" cy="368.12" r="16"/><circle cx="1486.4" cy="369.92" r="16"/><circle cx="1493.6" cy="371.79" r="16"/><circle cx="1500.8" cy="373.77" r="16"/><circle cx="1508" cy="375.91" r="16"/><circle cx="1515.2" cy="378.26" r="16"/><circle cx="1522.4" cy="380.86" r="16"/><circle cx="1529.6" cy="383.71" r="16"/><circle cx="1536.8" cy="386.8" r="16"/><circle cx="1544" cy="390.12" r="16"/><circle cx="1551.2" cy="393.67" r="16"/><circle cx="1558.4" cy="397.45" r="16"/><circle cx="1565.6" cy="401.44" r="16"/><circle cx="1572.8" cy="405.66" r="16"/><circle cx="1580" cy="410.09" r="16"/><circle cx="1587.2" cy="414.73" r="16"/><circle cx="1594.4" cy="419.71" r="16"/><circle cx="1601.6" cy="425.81" r="16"/><circle cx="1608.8" cy="432.47" r="16"/><circle cx="1616" cy="439.88" r="16"/><circle cx="1623.2" cy="448.98" r="16"/><circle cx="1630.4" cy="461.81" r="16"/><circle cx="1637.6" cy="475.08" r="16"/><circle cx="1644.8" cy="486.68" r="16"/><circle cx="1652" cy="500.61" r="16"/><circle cx="1659.2" cy="516.87" r="16"/><circle cx="1666.4" cy="537.18" r="16"/><circle cx="1673.6" cy="560.4" r="16"/><circle cx="1680.8" cy="587.09" r="16"/><circle cx="1688" cy="617.85" r="16"/><circle cx="1695.2" cy="653.84" r="16"/><circle cx="1702.4" cy="695.63" r="16"/><circle cx="1709.6" cy="747.28" r="16"/><circle cx="1716.8" cy="805.32" r="16"/><circle cx="1724" cy="872.07" r="16"/><circle cx="1731.2" cy="950.42" r="16"/><circle cx="1738.4" cy="1032.26" r="16"/><circle cx="1745.6" cy="1132.09" r="16"/><circle cx="1752.8" cy="1242.95" r="16"/><circle cx="1760" cy="1370.05" r="16"/></g>
<path d="M212 273.1L219.2 273.23L226.4 273.36L233.6 273.5L240.8 273.63L248 273.77L255.2 273.91L262.4 274.05L269.6 274.19L276.8 274.34L284 274.48L291.2 274.63L298.4 274.78L305.6 274.93L312.8 275.08L320 275.23L327.2 275.39L334.4 275.55L341.6 275.7L348.8 275.86L356 276.02L363.2 276.18L370.4 276.35L377.6 276.51L384.8 276.67L392 276.84L399.2 277.01L406.4 277.18L413.6 277.35L420.8 277.52L428 277.69L435.2 277.87L442.4 278.04L449.6 278.22L456.8 278.4L464 278.57L471.2 278.75L478.4 278.93L485.6 279.12L492.8 279.3L500 279.48L507.2 279.67L514.4 279.85L521.6 280.04L528.8 280.23L536 280.42L543.2 280.61L550.4 280.8L557.6 281L564.8 281.19L572 281.39L579.2 281.59L586.4 281.79L593.6 282L600.8 282.2L608 282.41L615.2 282.61L622.4 282.82L629.6 283.03L636.8 283.25L644 283.46L651.2 283.68L658.4 283.9L665.6 284.12L672.8 284.34L680 284.56L687.2 284.79L694.4 285.02L701.6 285.25L708.8 285.48L716 285.72L723.2 285.95L730.4 286.19L737.6 286.43L744.8 286.68L752 286.92L759.2 287.17L766.4 287.42L773.6 287.67L780.8 287.93L788 288.19L795.2 288.45L802.4 288.71L809.6 288.98L816.8 289.25L824 289.52L831.2 289.8L838.4 290.08L845.6 290.36L852.8 290.65L860 290.94L867.2 291.23L874.4 291.52L881.6 291.82L888.8 292.12L896 292.43L903.2 292.73L910.4 293.04L917.6 293.36L924.8 293.67L932 293.99L939.2 294.31L946.4 294.64L953.6 294.97L960.8 295.3L968 295.63L975.2 295.97L982.4 296.31L989.6 296.65L996.8 296.99L1004 297.34L1011.2 297.69L1018.4 298.04L1025.6 298.4L1032.8 298.75L1040 299.11L1047.2 299.48L1054.4 299.84L1061.6 300.21L1068.8 300.58L1076 300.96L1083.2 301.33L1090.4 301.72L1097.6 302.11L1104.8 302.5L1112 302.9L1119.2 303.31L1126.4 303.73L1133.6 304.14L1140.8 304.57L1148 305L1155.2 305.44L1162.4 305.88L1169.6 306.33L1176.8 306.79L1184 307.25L1191.2 307.72L1198.4 308.2L1205.6 308.68L1212.8 309.17L1220 309.66L1227.2 310.16L1234.4 310.66L1241.6 311.17L1248.8 311.68L1256 312.2L1263.2 312.72L1270.4 313.25L1277.6 313.79L1284.8 314.34L1292 314.9L1299.2 315.47L1306.4 316.06L1313.6 316.65L1320.8 317.26L1328 317.89L1335.2 318.53L1342.4 319.19L1349.6 319.86L1356.8 320.56L1364 321.27L1371.2 322.01L1378.4 322.78L1385.6 323.59L1392.8 324.42L1400 325.29L1407.2 326.18L1414.4 327.09L1421.6 328.03L1428.8 328.99L1436 329.97L1443.2 330.96L1450.4 331.97L1457.6 333L1464.8 334.04L1472 335.08L1479.2 336.14L1486.4 337.21L1493.6 338.28L1500.8 339.35L1508 340.42L1515.2 341.46L1522.4 342.49L1529.6 343.66L1536.8 345.1L1544 346.97L1551.2 349.3L1558.4 352.02L1565.6 355.08L1572.8 358.39L1580 361.9L1587.2 365.71L1594.4 370.01L1601.6 374.86L1608.8 380.3L1616 386.47L1623.2 394.56L1630.4 403.2L1637.6 413.36L1644.8 425.77L1652 439.67L1659.2 455.34L1666.4 477.4L1673.6 503.52L1680.8 532.54L1688 566.78L1695.2 606.83L1702.4 653.84L1709.6 706.08L1716.8 773.4L1724 848.85L1731.2 935.91L1738.4 1042.13L1745.6 1162.27L1752.8 1299.24L1760 1460.6L1767.2 1641.1" stroke="#37AD6B" stroke-width="11" stroke-linejoin="round" stroke-linecap="round" fill="none"/>
<g fill="#37AD6B"><circle cx="212" cy="273.1" r="16"/><circle cx="219.2" cy="273.23" r="16"/><circle cx="226.4" cy="273.36" r="16"/><circle cx="233.6" cy="273.5" r="16"/><circle cx="240.8" cy="273.63" r="16"/><circle cx="248" cy="273.77" r="16"/><circle cx="255.2" cy="273.91" r="16"/><circle cx="262.4" cy="274.05" r="16"/><circle cx="269.6" cy="274.19" r="16"/><circle cx="276.8" cy="274.34" r="16"/><circle cx="284" cy="274.48" r="16"/><circle cx="291.2" cy="274.63" r="16"/><circle cx="298.4" cy="274.78" r="16"/><circle cx="305.6" cy="274.93" r="16"/><circle cx="312.8" cy="275.08" r="16"/><circle cx="320" cy="275.23" r="16"/><circle cx="327.2" cy="275.39" r="16"/><circle cx="334.4" cy="275.55" r="16"/><circle cx="341.6" cy="275.7" r="16"/><circle cx="348.8" cy="275.86" r="16"/><circle cx="356" cy="276.02" r="16"/><circle cx="363.2" cy="276.18" r="16"/><circle cx="370.4" cy="276.35" r="16"/><circle cx="377.6" cy="276.51" r="16"/><circle cx="384.8" cy="276.67" r="16"/><circle cx="392" cy="276.84" r="16"/><circle cx="399.2" cy="277.01" r="16"/><circle cx="406.4" cy="277.18" r="16"/><circle cx="413.6" cy="277.35" r="16"/><circle cx="420.8" cy="277.52" r="16"/><circle cx="428" cy="277.69" r="16"/><circle cx="435.2" cy="277.87" r="16"/><circle cx="442.4" cy="278.04" r="16"/><circle cx="449.6" cy="278.22" r="16"/><circle cx="456.8" cy="278.4" r="16"/><circle cx="464" cy="278.57" r="16"/><circle cx="471.2" cy="278.75" r="16"/><circle cx="478.4" cy="278.93" r="16"/><circle cx="485.6" cy="279.12" r="16"/><circle cx="492.8" cy="279.3" r="16"/><circle cx="500" cy="279.48" r="16"/><circle cx="507.2" cy="279.67" r="16"/><circle cx="514.4" cy="279.85" r="16"/><circle cx="521.6" cy="280.04" r="16"/><circle cx="528.8" cy="280.23" r="16"/><circle cx="536" cy="280.42" r="16"/><circle cx="543.2" cy="280.61" r="16"/><circle cx="550.4" cy="280.8" r="16"/><circle cx="557.6" cy="281" r="16"/><circle cx="564.8" cy="281.19" r="16"/><circle cx="572" cy="281.39" r="16"/><circle cx="579.2" cy="281.59" r="16"/><circle cx="586.4" cy="281.79" r="16"/><circle cx="593.6" cy="282" r="16"/><circle cx="600.8" cy="282.2" r="16"/><circle cx="608" cy="282.41" r="16"/><circle cx="615.2" cy="282.61" r="16"/><circle cx="622.4" cy="282.82" r="16"/><circle cx="629.6" cy="283.03" r="16"/><circle cx="636.8" cy="283.25" r="16"/><circle cx="644" cy="283.46" r="16"/><circle cx="651.2" cy="283.68" r="16"/><circle cx="658.4" cy="283.9" r="16"/><circle cx="665.6" cy="284.12" r="16"/><circle cx="672.8" cy="284.34" r="16"/><circle cx="680" cy="284.56" r="16"/><circle cx="687.2" cy="284.79" r="16"/><circle cx="694.4" cy="285.02" r="16"/><circle cx="701.6" cy="285.25" r="16"/><circle cx="708.8" cy="285.48" r="16"/><circle cx="716" cy="285.72" r="16"/><circle cx="723.2" cy="285.95" r="16"/><circle cx="730.4" cy="286.19" r="16"/><circle cx="737.6" cy="286.43" r="16"/><circle cx="744.8" cy="286.68" r="16"/><circle cx="752" cy="286.92" r="16"/><circle cx="759.2" cy="287.17" r="16"/><circle cx="766.4" cy="287.42" r="16"/><circle cx="773.6" cy="287.67" r="16"/><circle cx="780.8" cy="287.93" r="16"/><circle cx="788" cy="288.19" r="16"/><circle cx="795.2" cy="288.45" r="16"/><circle cx="802.4" cy="288.71" r="16"/><circle cx="809.6" cy="288.98" r="16"/><circle cx="816.8" cy="289.25" r="16"/><circle cx="824" cy="289.52" r="16"/><circle cx="831.2" cy="289.8" r="16"/><circle cx="838.4" cy="290.08" r="16"/><circle cx="845.6" cy="290.36" r="16"/><circle cx="852.8" cy="290.65" r="16"/><circle cx="860" cy="290.94" r="16"/><circle cx="867.2" cy="291.23" r="16"/><circle cx="874.4" cy="291.52" r="16"/><circle cx="881.6" cy="291.82" r="16"/><circle cx="888.8" cy="292.12" r="16"/><circle cx="896" cy="292.43" r="16"/><circle cx="903.2" cy="292.73" r="16"/><circle cx="910.4" cy="293.04" r="16"/><circle cx="917.6" cy="293.36" r="16"/><circle cx="924.8" cy="293.67" r="16"/><circle cx="932" cy="293.99" r="16"/><circle cx="939.2" cy="294.31" r="16"/><circle cx="946.4" cy="294.64" r="16"/><circle cx="953.6" cy="294.97" r="16"/><circle cx="960.8" cy="295.3" r="16"/><circle cx="968" cy="295.63" r="16"/><circle cx="975.2" cy="295.97" r="16"/><circle cx="982.4" cy="296.31" r="16"/><circle cx="989.6" cy="296.65" r="16"/><circle cx="996.8" cy="296.99" r="16"/><circle cx="1004" cy="297.34" r="16"/><circle cx="1011.2" cy="297.69" r="16"/><circle cx="1018.4" cy="298.04" r="16"/><circle cx="1025.6" cy="298.4" r="16"/><circle cx="1032.8" cy="298.75" r="16"/><circle cx="1040" cy="299.11" r="16"/><circle cx="1047.2" cy="299.48" r="16"/><circle cx="1054.4" cy="299.84" r="16"/><circle cx="1061.6" cy="300.21" r="16"/><circle cx="1068.8" cy="300.58" r="16"/><circle cx="1076" cy="300.96" r="16"/><circle cx="1083.2" cy="301.33" r="16"/><circle cx="1090.4" cy="301.72" r="16"/><circle cx="1097.6" cy="302.11" r="16"/><circle cx="1104.8" cy="302.5" r="16"/><circle cx="1112" cy="302.9" r="16"/><circle cx="1119.2" cy="303.31" r="16"/><circle cx="1126.4" cy="303.73" r="16"/><circle cx="1133.6" cy="304.14" r="16"/><circle cx="1140.8" cy="304.57" r="16"/><circle cx="1148" cy="305" r="16"/><circle cx="1155.2" cy="305.44" r="16"/><circle cx="1162.4" cy="305.88" r="16"/><circle cx="1169.6" cy="306.33" r="16"/><circle cx="1176.8" cy="306.79" r="16"/><circle cx="1184" cy="307.25" r="16"/><circle cx="1191.2" cy="307.72" r="16"/><circle cx="1198.4" cy="308.2" r="16"/><circle cx="1205.6" cy="308.68" r="16"/><circle cx="1212.8" cy="309.17" r="16"/><circle cx="1220" cy="309.66" r="16"/><circle cx="1227.2" cy="310.16" r="16"/><circle cx="1234.4" cy="310.66" r="16"/><circle cx="1241.6" cy="311.17" r="16"/><circle cx="1248.8" cy="311.68" r="16"/><circle cx="1256" cy="312.2" r="16"/><circle cx="1263.2" cy="312.72" r="16"/><circle cx="1270.4" cy="313.25" r="16"/><circle cx="1277.6" cy="313.79" r="16"/><circle cx="1284.8" cy="314.34" r="16"/><circle cx="1292" cy="314.9" r="16"/><circle cx="1299.2" cy="315.47" r="16"/><circle cx="1306.4" cy="316.06" r="16"/><circle cx="1313.6" cy="316.65" r="16"/><circle cx="1320.8" cy="317.26" r="16"/><circle cx="1328" cy="317.89" r="16"/><circle cx="1335.2" cy="318.53" r="16"/><circle cx="1342.4" cy="319.19" r="16"/><circle cx="1349.6" cy="319.86" r="16"/><circle cx="1356.8" cy="320.56" r="16"/><circle cx="1364" cy="321.27" r="16"/><circle cx="1371.2" cy="322.01" r="16"/><circle cx="1378.4" cy="322.78" r="16"/><circle cx="1385.6" cy="323.59" r="16"/><circle cx="1392.8" cy="324.42" r="16"/><circle cx="1400" cy="325.29" r="16"/><circle cx="1407.2" cy="326.18" r="16"/><circle cx="1414.4" cy="327.09" r="16"/><circle cx="1421.6" cy="328.03" r="16"/><circle cx="1428.8" cy="328.99" r="16"/><circle cx="1436" cy="329.97" r="16"/><circle cx="1443.2" cy="330.96" r="16"/><circle cx="1450.4" cy="331.97" r="16"/><circle cx="1457.6" cy="333" r="16"/><circle cx="1464.8" cy="334.04" r="16"/><circle cx="1472" cy="335.08" r="16"/><circle cx="1479.2" cy="336.14" r="16"/><circle cx="1486.4" cy="337.21" r="16"/><circle cx="1493.6" cy="338.28" r="16"/><circle cx="1500.8" cy="339.35" r="16"/><circle cx="1508" cy="340.42" r="16"/><circle cx="1515.2" cy="341.46" r="16"/><circle cx="1522.4" cy="342.49" r="16"/><circle cx="1529.6" cy="343.66" r="16"/><circle cx="1536.8" cy="345.1" r="16"/><circle cx="1544" cy="346.97" r="16"/><circle cx="1551.2" cy="349.3" r="16"/><circle cx="1558.4" cy="352.02" r="16"/><circle cx="1565.6" cy="355.08" r="16"/><circle cx="1572.8" cy="358.39" r="16"/><circle cx="1580" cy="361.9" r="16"/><circle cx="1587.2" cy="365.71" r="16"/><circle cx="1594.4" cy="370.01" r="16"/><circle cx="1601.6" cy="374.86" r="16"/><circle cx="1608.8" cy="380.3" r="16"/><circle cx="1616" cy="386.47" r="16"/><circle cx="1623.2" cy="394.56" r="16"/><circle cx="1630.4" cy="403.2" r="16"/><circle cx="1637.6" cy="413.36" r="16"/><circle cx="1644.8" cy="425.77" r="16"/><circle cx="1652" cy="439.67" r="16"/><circle cx="1659.2" cy="455.34" r="16"/><circle cx="1666.4" cy="477.4" r="16"/><circle cx="1673.6" cy="503.52" r="16"/><circle cx="1680.8" cy="532.54" r="16"/><circle cx="1688" cy="566.78" r="16"/><circle cx="1695.2" cy="606.83" r="16"/><circle cx="1702.4" cy="653.84" r="16"/><circle cx="1709.6" cy="706.08" r="16"/><circle cx="1716.8" cy="773.4" r="16"/><circle cx="1724" cy="848.85" r="16"/><circle cx="1731.2" cy="935.91" r="16"/><circle cx="1738.4" cy="1042.13" r="16"/><circle cx="1745.6" cy="1162.27" r="16"/><circle cx="1752.8" cy="1299.24" r="16"/><circle cx="1760" cy="1460.6" r="16"/></g>
<path d="M212 172.69L219.2 172.69L226.4 172.69L233.6 172.69L240.8 172.69L248 172.69L255.2 172.69L262.4 172.69L269.6 172.69L276.8 172.69L284 172.69L291.2 172.69L298.4 172.69L305.6 172.69L312.8 172.69L320 172.69L327.2 172.69L334.4 172.69L341.6 172.69L348.8 172.69L356 172.69L363.2 172.69L370.4 172.69L377.6 172.69L384.8 172.69L392 172.69L399.2 172.69L406.4 172.69L413.6 172.69L420.8 172.69L428 172.69L435.2 172.69L442.4 172.69L449.6 172.69L456.8 172.69L464 172.69L471.2 172.69L478.4 172.69L485.6 172.69L492.8 172.69L500 172.69L507.2 172.69L514.4 172.69L521.6 172.69L528.8 172.69L536 172.69L543.2 172.69L550.4 172.69L557.6 172.69L564.8 172.69L572 172.69L579.2 172.69L586.4 172.69L593.6 172.69L600.8 172.69L608 172.69L615.2 172.69L622.4 172.69L629.6 172.69L636.8 172.69L644 172.69L651.2 172.69L658.4 172.69L665.6 172.69L672.8 172.69L680 172.69L687.2 172.69L694.4 172.69L701.6 172.69L708.8 172.69L716 172.69L723.2 172.69L730.4 172.69L737.6 172.69L744.8 172.69L752 172.69L759.2 172.69L766.4 172.69L773.6 172.69L780.8 172.69L788 172.69L795.2 172.69L802.4 172.69L809.6 172.69L816.8 172.7L824 172.7L831.2 172.71L838.4 172.71L845.6 172.72L852.8 172.73L860 172.74L867.2 172.75L874.4 172.76L881.6 172.77L888.8 172.78L896 172.8L903.2 172.81L910.4 172.82L917.6 172.84L924.8 172.85L932 172.87L939.2 172.89L946.4 172.9L953.6 172.92L960.8 172.94L968 172.96L975.2 172.98L982.4 173L989.6 173.02L996.8 173.04L1004 173.06L1011.2 173.08L1018.4 173.1L1025.6 173.12L1032.8 173.14L1040 173.16L1047.2 173.18L1054.4 173.2L1061.6 173.22L1068.8 173.25L1076 173.27L1083.2 173.29L1090.4 173.31L1097.6 173.33L1104.8 173.36L1112 173.38L1119.2 173.4L1126.4 173.42L1133.6 173.45L1140.8 173.47L1148 173.5L1155.2 173.52L1162.4 173.55L1169.6 173.58L1176.8 173.6L1184 173.63L1191.2 173.67L1198.4 173.7L1205.6 173.73L1212.8 173.77L1220 173.8L1227.2 173.84L1234.4 173.88L1241.6 173.92L1248.8 173.97L1256 174.01L1263.2 174.06L1270.4 174.11L1277.6 174.17L1284.8 174.22L1292 174.28L1299.2 174.34L1306.4 174.4L1313.6 174.47L1320.8 174.54L1328 174.61L1335.2 174.68L1342.4 174.76L1349.6 174.84L1356.8 174.92L1364 175.01L1371.2 175.12L1378.4 175.28L1385.6 175.47L1392.8 175.71L1400 175.99L1407.2 176.3L1414.4 176.65L1421.6 177.04L1428.8 177.46L1436 177.91L1443.2 178.46L1450.4 179.18L1457.6 180.06L1464.8 181.08L1472 182.26L1479.2 183.57L1486.4 185.02L1493.6 186.59L1500.8 188.29L1508 190.1L1515.2 192.33L1522.4 195.21L1529.6 198.59L1536.8 202.35L1544 206.35L1551.2 210.9L1558.4 216.23L1565.6 222.16L1572.8 229.07L1580 237.32L1587.2 246.46L1594.4 256.73L1601.6 268.34L1608.8 283.29L1616 301.54L1623.2 320.4L1630.4 342.16L1637.6 367.12L1644.8 395.56L1652 430.39L1659.2 468.69L1666.4 512.8L1673.6 562.72L1680.8 619.6L1688 690.4L1695.2 765.28L1702.4 852.92L1709.6 956.81L1716.8 1074.05L1724 1208.7L1731.2 1363.09L1738.4 1537.21" stroke="#B177DE" stroke-width="11" stroke-linejoin="round" stroke-linecap="round" fill="none"/>
<g fill="#B177DE"><circle cx="212" cy="172.69" r="16"/><circle cx="219.2" cy="172.69" r="16"/><circle cx="226.4" cy="172.69" r="16"/><circle cx="233.6" cy="172.69" r="16"/><circle cx="240.8" cy="172.69" r="16"/><circle cx="248" cy="172.69" r="16"/><circle cx="255.2" cy="172.69" r="16"/><circle cx="262.4" cy="172.69" r="16"/><circle cx="269.6" cy="172.69" r="16"/><circle cx="276.8" cy="172.69" r="16"/><circle cx="284" cy="172.69" r="16"/><circle cx="291.2" cy="172.69" r="16"/><circle cx="298.4" cy="172.69" r="16"/><circle cx="305.6" cy="172.69" r="16"/><circle cx="312.8" cy="172.69" r="16"/><circle cx="320" cy="172.69" r="16"/><circle cx="327.2" cy="172.69" r="16"/><circle cx="334.4" cy="172.69" r="16"/><circle cx="341.6" cy="172.69" r="16"/><circle cx="348.8" cy="172.69" r="16"/><circle cx="356" cy="172.69" r="16"/><circle cx="363.2" cy="172.69" r="16"/><circle cx="370.4" cy="172.69" r="16"/><circle cx="377.6" cy="172.69" r="16"/><circle cx="384.8" cy="172.69" r="16"/><circle cx="392" cy="172.69" r="16"/><circle cx="399.2" cy="172.69" r="16"/><circle cx="406.4" cy="172.69" r="16"/><circle cx="413.6" cy="172.69" r="16"/><circle cx="420.8" cy="172.69" r="16"/><circle cx="428" cy="172.69" r="16"/><circle cx="435.2" cy="172.69" r="16"/><circle cx="442.4" cy="172.69" r="16"/><circle cx="449.6" cy="172.69" r="16"/><circle cx="456.8" cy="172.69" r="16"/><circle cx="464" cy="172.69" r="16"/><circle cx="471.2" cy="172.69" r="16"/><circle cx="478.4" cy="172.69" r="16"/><circle cx="485.6" cy="172.69" r="16"/><circle cx="492.8" cy="172.69" r="16"/><circle cx="500" cy="172.69" r="16"/><circle cx="507.2" cy="172.69" r="16"/><circle cx="514.4" cy="172.69" r="16"/><circle cx="521.6" cy="172.69" r="16"/><circle cx="528.8" cy="172.69" r="16"/><circle cx="536" cy="172.69" r="16"/><circle cx="543.2" cy="172.69" r="16"/><circle cx="550.4" cy="172.69" r="16"/><circle cx="557.6" cy="172.69" r="16"/><circle cx="564.8" cy="172.69" r="16"/><circle cx="572" cy="172.69" r="16"/><circle cx="579.2" cy="172.69" r="16"/><circle cx="586.4" cy="172.69" r="16"/><circle cx="593.6" cy="172.69" r="16"/><circle cx="600.8" cy="172.69" r="16"/><circle cx="608" cy="172.69" r="16"/><circle cx="615.2" cy="172.69" r="16"/><circle cx="622.4" cy="172.69" r="16"/><circle cx="629.6" cy="172.69" r="16"/><circle cx="636.8" cy="172.69" r="16"/><circle cx="644" cy="172.69" r="16"/><circle cx="651.2" cy="172.69" r="16"/><circle cx="658.4" cy="172.69" r="16"/><circle cx="665.6" cy="172.69" r="16"/><circle cx="672.8" cy="172.69" r="16"/><circle cx="680" cy="172.69" r="16"/><circle cx="687.2" cy="172.69" r="16"/><circle cx="694.4" cy="172.69" r="16"/><circle cx="701.6" cy="172.69" r="16"/><circle cx="708.8" cy="172.69" r="16"/><circle cx="716" cy="172.69" r="16"/><circle cx="723.2" cy="172.69" r="16"/><circle cx="730.4" cy="172.69" r="16"/><circle cx="737.6" cy="172.69" r="16"/><circle cx="744.8" cy="172.69" r="16"/><circle cx="752" cy="172.69" r="16"/><circle cx="759.2" cy="172.69" r="16"/><circle cx="766.4" cy="172.69" r="16"/><circle cx="773.6" cy="172.69" r="16"/><circle cx="780.8" cy="172.69" r="16"/><circle cx="788" cy="172.69" r="16"/><circle cx="795.2" cy="172.69" r="16"/><circle cx="802.4" cy="172.69" r="16"/><circle cx="809.6" cy="172.69" r="16"/><circle cx="816.8" cy="172.7" r="16"/><circle cx="824" cy="172.7" r="16"/><circle cx="831.2" cy="172.71" r="16"/><circle cx="838.4" cy="172.71" r="16"/><circle cx="845.6" cy="172.72" r="16"/><circle cx="852.8" cy="172.73" r="16"/><circle cx="860" cy="172.74" r="16"/><circle cx="867.2" cy="172.75" r="16"/><circle cx="874.4" cy="172.76" r="16"/><circle cx="881.6" cy="172.77" r="16"/><circle cx="888.8" cy="172.78" r="16"/><circle cx="896" cy="172.8" r="16"/><circle cx="903.2" cy="172.81" r="16"/><circle cx="910.4" cy="172.82" r="16"/><circle cx="917.6" cy="172.84" r="16"/><circle cx="924.8" cy="172.85" r="16"/><circle cx="932" cy="172.87" r="16"/><circle cx="939.2" cy="172.89" r="16"/><circle cx="946.4" cy="172.9" r="16"/><circle cx="953.6" cy="172.92" r="16"/><circle cx="960.8" cy="172.94" r="16"/><circle cx="968" cy="172.96" r="16"/><circle cx="975.2" cy="172.98" r="16"/><circle cx="982.4" cy="173" r="16"/><circle cx="989.6" cy="173.02" r="16"/><circle cx="996.8" cy="173.04" r="16"/><circle cx="1004" cy="173.06" r="16"/><circle cx="1011.2" cy="173.08" r="16"/><circle cx="1018.4" cy="173.1" r="16"/><circle cx="1025.6" cy="173.12" r="16"/><circle cx="1032.8" cy="173.14" r="16"/><circle cx="1040" cy="173.16" r="16"/><circle cx="1047.2" cy="173.18" r="16"/><circle cx="1054.4" cy="173.2" r="16"/><circle cx="1061.6" cy="173.22" r="16"/><circle cx="1068.8" cy="173.25" r="16"/><circle cx="1076" cy="173.27" r="16"/><circle cx="1083.2" cy="173.29" r="16"/><circle cx="1090.4" cy="173.31" r="16"/><circle cx="1097.6" cy="173.33" r="16"/><circle cx="1104.8" cy="173.36" r="16"/><circle cx="1112" cy="173.38" r="16"/><circle cx="1119.2" cy="173.4" r="16"/><circle cx="1126.4" cy="173.42" r="16"/><circle cx="1133.6" cy="173.45" r="16"/><circle cx="1140.8" cy="173.47" r="16"/><circle cx="1148" cy="173.5" r="16"/><circle cx="1155.2" cy="173.52" r="16"/><circle cx="1162.4" cy="173.55" r="16"/><circle cx="1169.6" cy="173.58" r="16"/><circle cx="1176.8" cy="173.6" r="16"/><circle cx="1184" cy="173.63" r="16"/><circle cx="1191.2" cy="173.67" r="16"/><circle cx="1198.4" cy="173.7" r="16"/><circle cx="1205.6" cy="173.73" r="16"/><circle cx="1212.8" cy="173.77" r="16"/><circle cx="1220" cy="173.8" r="16"/><circle cx="1227.2" cy="173.84" r="16"/><circle cx="1234.4" cy="173.88" r="16"/><circle cx="1241.6" cy="173.92" r="16"/><circle cx="1248.8" cy="173.97" r="16"/><circle cx="1256" cy="174.01" r="16"/><circle cx="1263.2" cy="174.06" r="16"/><circle cx="1270.4" cy="174.11" r="16"/><circle cx="1277.6" cy="174.17" r="16"/><circle cx="1284.8" cy="174.22" r="16"/><circle cx="1292" cy="174.28" r="16"/><circle cx="1299.2" cy="174.34" r="16"/><circle cx="1306.4" cy="174.4" r="16"/><circle cx="1313.6" cy="174.47" r="16"/><circle cx="1320.8" cy="174.54" r="16"/><circle cx="1328" cy="174.61" r="16"/><circle cx="1335.2" cy="174.68" r="16"/><circle cx="1342.4" cy="174.76" r="16"/><circle cx="1349.6" cy="174.84" r="16"/><circle cx="1356.8" cy="174.92" r="16"/><circle cx="1364" cy="175.01" r="16"/><circle cx="1371.2" cy="175.12" r="16"/><circle cx="1378.4" cy="175.28" r="16"/><circle cx="1385.6" cy="175.47" r="16"/><circle cx="1392.8" cy="175.71" r="16"/><circle cx="1400" cy="175.99" r="16"/><circle cx="1407.2" cy="176.3" r="16"/><circle cx="1414.4" cy="176.65" r="16"/><circle cx="1421.6" cy="177.04" r="16"/><circle cx="1428.8" cy="177.46" r="16"/><circle cx="1436" cy="177.91" r="16"/><circle cx="1443.2" cy="178.46" r="16"/><circle cx="1450.4" cy="179.18" r="16"/><circle cx="1457.6" cy="180.06" r="16"/><circle cx="1464.8" cy="181.08" r="16"/><circle cx="1472" cy="182.26" r="16"/><circle cx="1479.2" cy="183.57" r="16"/><circle cx="1486.4" cy="185.02" r="16"/><circle cx="1493.6" cy="186.59" r="16"/><circle cx="1500.8" cy="188.29" r="16"/><circle cx="1508" cy="190.1" r="16"/><circle cx="1515.2" cy="192.33" r="16"/><circle cx="1522.4" cy="195.21" r="16"/><circle cx="1529.6" cy="198.59" r="16"/><circle cx="1536.8" cy="202.35" r="16"/><circle cx="1544" cy="206.35" r="16"/><circle cx="1551.2" cy="210.9" r="16"/><circle cx="1558.4" cy="216.23" r="16"/><circle cx="1565.6" cy="222.16" r="16"/><circle cx="1572.8" cy="229.07" r="16"/><circle cx="1580" cy="237.32" r="16"/><circle cx="1587.2" cy="246.46" r="16"/><circle cx="1594.4" cy="256.73" r="16"/><circle cx="1601.6" cy="268.34" r="16"/><circle cx="1608.8" cy="283.29" r="16"/><circle cx="1616" cy="301.54" r="16"/><circle cx="1623.2" cy="320.4" r="16"/><circle cx="1630.4" cy="342.16" r="16"/><circle cx="1637.6" cy="367.12" r="16"/><circle cx="1644.8" cy="395.56" r="16"/><circle cx="1652" cy="430.39" r="16"/><circle cx="1659.2" cy="468.69" r="16"/><circle cx="1666.4" cy="512.8" r="16"/><circle cx="1673.6" cy="562.72" r="16"/><circle cx="1680.8" cy="619.6" r="16"/><circle cx="1688" cy="690.4" r="16"/><circle cx="1695.2" cy="765.28" r="16"/><circle cx="1702.4" cy="852.92" r="16"/><circle cx="1709.6" cy="956.81" r="16"/><circle cx="1716.8" cy="1074.05" r="16"/><circle cx="1724" cy="1208.7" r="16"/><circle cx="1731.2" cy="1363.09" r="16"/></g>
<path d="M212 171.53L219.2 171.53L226.4 171.53L233.6 171.53L240.8 171.53L248 171.53L255.2 171.53L262.4 171.53L269.6 171.53L276.8 171.53L284 171.53L291.2 171.53L298.4 171.53L305.6 171.53L312.8 171.53L320 171.53L327.2 171.53L334.4 171.53L341.6 171.53L348.8 171.53L356 171.53L363.2 171.53L370.4 171.53L377.6 171.53L384.8 171.53L392 171.53L399.2 171.53L406.4 171.53L413.6 171.53L420.8 171.53L428 171.53L435.2 171.53L442.4 171.53L449.6 171.53L456.8 171.53L464 171.53L471.2 171.53L478.4 171.53L485.6 171.53L492.8 171.53L500 171.53L507.2 171.53L514.4 171.53L521.6 171.53L528.8 171.53L536 171.53L543.2 171.53L550.4 171.53L557.6 171.53L564.8 171.53L572 171.53L579.2 171.53L586.4 171.53L593.6 171.53L600.8 171.53L608 171.53L615.2 171.53L622.4 171.53L629.6 171.53L636.8 171.53L644 171.53L651.2 171.53L658.4 171.53L665.6 171.53L672.8 171.53L680 171.53L687.2 171.53L694.4 171.53L701.6 171.53L708.8 171.53L716 171.53L723.2 171.53L730.4 171.53L737.6 171.53L744.8 171.53L752 171.53L759.2 171.53L766.4 171.53L773.6 171.53L780.8 171.53L788 171.53L795.2 171.53L802.4 171.53L809.6 171.53L816.8 171.54L824 171.54L831.2 171.55L838.4 171.55L845.6 171.56L852.8 171.57L860 171.58L867.2 171.59L874.4 171.6L881.6 171.62L888.8 171.63L896 171.64L903.2 171.66L910.4 171.67L917.6 171.69L924.8 171.7L932 171.72L939.2 171.74L946.4 171.76L953.6 171.77L960.8 171.79L968 171.81L975.2 171.83L982.4 171.85L989.6 171.87L996.8 171.89L1004 171.91L1011.2 171.93L1018.4 171.95L1025.6 171.97L1032.8 171.99L1040 172.01L1047.2 172.03L1054.4 172.05L1061.6 172.07L1068.8 172.09L1076 172.11L1083.2 172.13L1090.4 172.15L1097.6 172.17L1104.8 172.18L1112 172.2L1119.2 172.22L1126.4 172.24L1133.6 172.26L1140.8 172.28L1148 172.3L1155.2 172.32L1162.4 172.34L1169.6 172.36L1176.8 172.39L1184 172.41L1191.2 172.43L1198.4 172.45L1205.6 172.48L1212.8 172.5L1220 172.53L1227.2 172.56L1234.4 172.58L1241.6 172.61L1248.8 172.64L1256 172.67L1263.2 172.7L1270.4 172.73L1277.6 172.77L1284.8 172.8L1292 172.84L1299.2 172.87L1306.4 172.91L1313.6 172.95L1320.8 172.99L1328 173.03L1335.2 173.08L1342.4 173.12L1349.6 173.17L1356.8 173.22L1364 173.27L1371.2 173.32L1378.4 173.38L1385.6 173.45L1392.8 173.52L1400 173.6L1407.2 173.68L1414.4 173.77L1421.6 173.87L1428.8 173.98L1436 174.1L1443.2 174.23L1450.4 174.37L1457.6 174.52L1464.8 174.68L1472 174.85L1479.2 175.03L1486.4 175.22L1493.6 175.43L1500.8 175.65L1508 175.88L1515.2 176.19L1522.4 176.61L1529.6 177.15L1536.8 177.8L1544 178.53L1551.2 179.34L1558.4 180.21L1565.6 181.15L1572.8 182.12L1580 183.14L1587.2 184.19L1594.4 185.33L1601.6 186.58L1608.8 187.97L1616 189.51L1623.2 191.25L1630.4 193.19L1637.6 195.37L1644.8 197.81L1652 200.55L1659.2 204.22L1666.4 209.35L1673.6 215.75L1680.8 223.23L1688 231.62L1695.2 240.72L1702.4 250.36L1709.6 260.34L1716.8 271.44L1724 286.13L1731.2 303.01L1738.4 322.02L1745.6 344.17L1752.8 370.63L1760 401.26L1767.2 435.92L1774.4 475.08L1781.6 524.41L1788.8 584.77L1796 653.84L1803.2 736.26L1810.4 833.18L1817.6 948.1L1824.8 1084.5L1832 1244.69L1839.2 1434.48L1846.4 1652.71" stroke="#FF8000" stroke-width="11" stroke-linejoin="round" stroke-linecap="round" fill="none"/>
<g fill="#FF8000"><circle cx="212" cy="171.53" r="16"/><circle cx="219.2" cy="171.53" r="16"/><circle cx="226.4" cy="171.53" r="16"/><circle cx="233.6" cy="171.53" r="16"/><circle cx="240.8" cy="171.53" r="16"/><circle cx="248" cy="171.53" r="16"/><circle cx="255.2" cy="171.53" r="16"/><circle cx="262.4" cy="171.53" r="16"/><circle cx="269.6" cy="171.53" r="16"/><circle cx="276.8" cy="171.53" r="16"/><circle cx="284" cy="171.53" r="16"/><circle cx="291.2" cy="171.53" r="16"/><circle cx="298.4" cy="171.53" r="16"/><circle cx="305.6" cy="171.53" r="16"/><circle cx="312.8" cy="171.53" r="16"/><circle cx="320" cy="171.53" r="16"/><circle cx="327.2" cy="171.53" r="16"/><circle cx="334.4" cy="171.53" r="16"/><circle cx="341.6" cy="171.53" r="16"/><circle cx="348.8" cy="171.53" r="16"/><circle cx="356" cy="171.53" r="16"/><circle cx="363.2" cy="171.53" r="16"/><circle cx="370.4" cy="171.53" r="16"/><circle cx="377.6" cy="171.53" r="16"/><circle cx="384.8" cy="171.53" r="16"/><circle cx="392" cy="171.53" r="16"/><circle cx="399.2" cy="171.53" r="16"/><circle cx="406.4" cy="171.53" r="16"/><circle cx="413.6" cy="171.53" r="16"/><circle cx="420.8" cy="171.53" r="16"/><circle cx="428" cy="171.53" r="16"/><circle cx="435.2" cy="171.53" r="16"/><circle cx="442.4" cy="171.53" r="16"/><circle cx="449.6" cy="171.53" r="16"/><circle cx="456.8" cy="171.53" r="16"/><circle cx="464" cy="171.53" r="16"/><circle cx="471.2" cy="171.53" r="16"/><circle cx="478.4" cy="171.53" r="16"/><circle cx="485.6" cy="171.53" r="16"/><circle cx="492.8" cy="171.53" r="16"/><circle cx="500" cy="171.53" r="16"/><circle cx="507.2" cy="171.53" r="16"/><circle cx="514.4" cy="171.53" r="16"/><circle cx="521.6" cy="171.53" r="16"/><circle cx="528.8" cy="171.53" r="16"/><circle cx="536" cy="171.53" r="16"/><circle cx="543.2" cy="171.53" r="16"/><circle cx="550.4" cy="171.53" r="16"/><circle cx="557.6" cy="171.53" r="16"/><circle cx="564.8" cy="171.53" r="16"/><circle cx="572" cy="171.53" r="16"/><circle cx="579.2" cy="171.53" r="16"/><circle cx="586.4" cy="171.53" r="16"/><circle cx="593.6" cy="171.53" r="16"/><circle cx="600.8" cy="171.53" r="16"/><circle cx="608" cy="171.53" r="16"/><circle cx="615.2" cy="171.53" r="16"/><circle cx="622.4" cy="171.53" r="16"/><circle cx="629.6" cy="171.53" r="16"/><circle cx="636.8" cy="171.53" r="16"/><circle cx="644" cy="171.53" r="16"/><circle cx="651.2" cy="171.53" r="16"/><circle cx="658.4" cy="171.53" r="16"/><circle cx="665.6" cy="171.53" r="16"/><circle cx="672.8" cy="171.53" r="16"/><circle cx="680" cy="171.53" r="16"/><circle cx="687.2" cy="171.53" r="16"/><circle cx="694.4" cy="171.53" r="16"/><circle cx="701.6" cy="171.53" r="16"/><circle cx="708.8" cy="171.53" r="16"/><circle cx="716" cy="171.53" r="16"/><circle cx="723.2" cy="171.53" r="16"/><circle cx="730.4" cy="171.53" r="16"/><circle cx="737.6" cy="171.53" r="16"/><circle cx="744.8" cy="171.53" r="16"/><circle cx="752" cy="171.53" r="16"/><circle cx="759.2" cy="171.53" r="16"/><circle cx="766.4" cy="171.53" r="16"/><circle cx="773.6" cy="171.53" r="16"/><circle cx="780.8" cy="171.53" r="16"/><circle cx="788" cy="171.53" r="16"/><circle cx="795.2" cy="171.53" r="16"/><circle cx="802.4" cy="171.53" r="16"/><circle cx="809.6" cy="171.53" r="16"/><circle cx="816.8" cy="171.54" r="16"/><circle cx="824" cy="171.54" r="16"/><circle cx="831.2" cy="171.55" r="16"/><circle cx="838.4" cy="171.55" r="16"/><circle cx="845.6" cy="171.56" r="16"/><circle cx="852.8" cy="171.57" r="16"/><circle cx="860" cy="171.58" r="16"/><circle cx="867.2" cy="171.59" r="16"/><circle cx="874.4" cy="171.6" r="16"/><circle cx="881.6" cy="171.62" r="16"/><circle cx="888.8" cy="171.63" r="16"/><circle cx="896" cy="171.64" r="16"/><circle cx="903.2" cy="171.66" r="16"/><circle cx="910.4" cy="171.67" r="16"/><circle cx="917.6" cy="171.69" r="16"/><circle cx="924.8" cy="171.7" r="16"/><circle cx="932" cy="171.72" r="16"/><circle cx="939.2" cy="171.74" r="16"/><circle cx="946.4" cy="171.76" r="16"/><circle cx="953.6" cy="171.77" r="16"/><circle cx="960.8" cy="171.79" r="16"/><circle cx="968" cy="171.81" r="16"/><circle cx="975.2" cy="171.83" r="16"/><circle cx="982.4" cy="171.85" r="16"/><circle cx="989.6" cy="171.87" r="16"/><circle cx="996.8" cy="171.89" r="16"/><circle cx="1004" cy="171.91" r="16"/><circle cx="1011.2" cy="171.93" r="16"/><circle cx="1018.4" cy="171.95" r="16"/><circle cx="1025.6" cy="171.97" r="16"/><circle cx="1032.8" cy="171.99" r="16"/><circle cx="1040" cy="172.01" r="16"/><circle cx="1047.2" cy="172.03" r="16"/><circle cx="1054.4" cy="172.05" r="16"/><circle cx="1061.6" cy="172.07" r="16"/><circle cx="1068.8" cy="172.09" r="16"/><circle cx="1076" cy="172.11" r="16"/><circle cx="1083.2" cy="172.13" r="16"/><circle cx="1090.4" cy="172.15" r="16"/><circle cx="1097.6" cy="172.17" r="16"/><circle cx="1104.8" cy="172.18" r="16"/><circle cx="1112" cy="172.2" r="16"/><circle cx="1119.2" cy="172.22" r="16"/><circle cx="1126.4" cy="172.24" r="16"/><circle cx="1133.6" cy="172.26" r="16"/><circle cx="1140.8" cy="172.28" r="16"/><circle cx="1148" cy="172.3" r="16"/><circle cx="1155.2" cy="172.32" r="16"/><circle cx="1162.4" cy="172.34" r="16"/><circle cx="1169.6" cy="172.36" r="16"/><circle cx="1176.8" cy="172.39" r="16"/><circle cx="1184" cy="172.41" r="16"/><circle cx="1191.2" cy="172.43" r="16"/><circle cx="1198.4" cy="172.45" r="16"/><circle cx="1205.6" cy="172.48" r="16"/><circle cx="1212.8" cy="172.5" r="16"/><circle cx="1220" cy="172.53" r="16"/><circle cx="1227.2" cy="172.56" r="16"/><circle cx="1234.4" cy="172.58" r="16"/><circle cx="1241.6" cy="172.61" r="16"/><circle cx="1248.8" cy="172.64" r="16"/><circle cx="1256" cy="172.67" r="16"/><circle cx="1263.2" cy="172.7" r="16"/><circle cx="1270.4" cy="172.73" r="16"/><circle cx="1277.6" cy="172.77" r="16"/><circle cx="1284.8" cy="172.8" r="16"/><circle cx="1292" cy="172.84" r="16"/><circle cx="1299.2" cy="172.87" r="16"/><circle cx="1306.4" cy="172.91" r="16"/><circle cx="1313.6" cy="172.95" r="16"/><circle cx="1320.8" cy="172.99" r="16"/><circle cx="1328" cy="173.03" r="16"/><circle cx="1335.2" cy="173.08" r="16"/><circle cx="1342.4" cy="173.12" r="16"/><circle cx="1349.6" cy="173.17" r="16"/><circle cx="1356.8" cy="173.22" r="16"/><circle cx="1364" cy="173.27" r="16"/><circle cx="1371.2" cy="173.32" r="16"/><circle cx="1378.4" cy="173.38" r="16"/><circle cx="1385.6" cy="173.45" r="16"/><circle cx="1392.8" cy="173.52" r="16"/><circle cx="1400" cy="173.6" r="16"/><circle cx="1407.2" cy="173.68" r="16"/><circle cx="1414.4" cy="173.77" r="16"/><circle cx="1421.6" cy="173.87" r="16"/><circle cx="1428.8" cy="173.98" r="16"/><circle cx="1436" cy="174.1" r="16"/><circle cx="1443.2" cy="174.23" r="16"/><circle cx="1450.4" cy="174.37" r="16"/><circle cx="1457.6" cy="174.52" r="16"/><circle cx="1464.8" cy="174.68" r="16"/><circle cx="1472" cy="174.85" r="16"/><circle cx="1479.2" cy="175.03" r="16"/><circle cx="1486.4" cy="175.22" r="16"/><circle cx="1493.6" cy="175.43" r="16"/><circle cx="1500.8" cy="175.65" r="16"/><circle cx="1508" cy="175.88" r="16"/><circle cx="1515.2" cy="176.19" r="16"/><circle cx="1522.4" cy="176.61" r="16"/><circle cx="1529.6" cy="177.15" r="16"/><circle cx="1536.8" cy="177.8" r="16"/><circle cx="1544" cy="178.53" r="16"/><circle cx="1551.2" cy="179.34" r="16"/><circle cx="1558.4" cy="180.21" r="16"/><circle cx="1565.6" cy="181.15" r="16"/><circle cx="1572.8" cy="182.12" r="16"/><circle cx="1580" cy="183.14" r="16"/><circle cx="1587.2" cy="184.19" r="16"/><circle cx="1594.4" cy="185.33" r="16"/><circle cx="1601.6" cy="186.58" r="16"/><circle cx="1608.8" cy="187.97" r="16"/><circle cx="1616" cy="189.51" r="16"/><circle cx="1623.2" cy="191.25" r="16"/><circle cx="1630.4" cy="193.19" r="16"/><circle cx="1637.6" cy="195.37" r="16"/><circle cx="1644.8" cy="197.81" r="16"/><circle cx="1652" cy="200.55" r="16"/><circle cx="1659.2" cy="204.22" r="16"/><circle cx="1666.4" cy="209.35" r="16"/><circle cx="1673.6" cy="215.75" r="16"/><circle cx="1680.8" cy="223.23" r="16"/><circle cx="1688" cy="231.62" r="16"/><circle cx="1695.2" cy="240.72" r="16"/><circle cx="1702.4" cy="250.36" r="16"/><circle cx="1709.6" cy="260.34" r="16"/><circle cx="1716.8" cy="271.44" r="16"/><circle cx="1724" cy="286.13" r="16"/><circle cx="1731.2" cy="303.01" r="16"/><circle cx="1738.4" cy="322.02" r="16"/><circle cx="1745.6" cy="344.17" r="16"/><circle cx="1752.8" cy="370.63" r="16"/><circle cx="1760" cy="401.26" r="16"/><circle cx="1767.2" cy="435.92" r="16"/><circle cx="1774.4" cy="475.08" r="16"/><circle cx="1781.6" cy="524.41" r="16"/><circle cx="1788.8" cy="584.77" r="16"/><circle cx="1796" cy="653.84" r="16"/><circle cx="1803.2" cy="736.26" r="16"/><circle cx="1810.4" cy="833.18" r="16"/><circle cx="1817.6" cy="948.1" r="16"/><circle cx="1824.8" cy="1084.5" r="16"/><circle cx="1832" cy="1244.69" r="16"/><circle cx="1839.2" cy="1434.48" r="16"/></g>
<path d="M1798.84 525.48L1800.36 536.69M1805.66 578.35L1807.94 597.58M1812.47 639.33L1815.53 670.09M1819.35 711.91L1823.05 755.96M1826.31 797.83L1830.49 855.77M1833.27 897.67L1837.93 974.15M1840.29 1016.09L1845.31 1112.28M1847.31 1154.23L1852.69 1278.26M1854.39 1320.23L1860.01 1469.21M1861.5 1511.18L1867.3 1683.96" stroke="#FF007F" stroke-width="11" stroke-linecap="round" fill="none"/>
<g fill="#FF007F"><circle cx="212" cy="171.53" r="16"/><circle cx="219.2" cy="171.53" r="16"/><circle cx="226.4" cy="171.53" r="16"/><circle cx="233.6" cy="171.53" r="16"/><circle cx="240.8" cy="171.53" r="16"/><circle cx="248" cy="171.53" r="16"/><circle cx="255.2" cy="171.53" r="16"/><circle cx="262.4" cy="171.53" r="16"/><circle cx="269.6" cy="171.53" r="16"/><circle cx="276.8" cy="171.53" r="16"/><circle cx="284" cy="171.53" r="16"/><circle cx="291.2" cy="171.53" r="16"/><circle cx="298.4" cy="171.53" r="16"/><circle cx="305.6" cy="171.53" r="16"/><circle cx="312.8" cy="171.53" r="16"/><circle cx="320" cy="171.53" r="16"/><circle cx="327.2" cy="171.53" r="16"/><circle cx="334.4" cy="171.53" r="16"/><circle cx="341.6" cy="171.53" r="16"/><circle cx="348.8" cy="171.53" r="16"/><circle cx="356" cy="171.53" r="16"/><circle cx="363.2" cy="171.53" r="16"/><circle cx="370.4" cy="171.53" r="16"/><circle cx="377.6" cy="171.53" r="16"/><circle cx="384.8" cy="171.53" r="16"/><circle cx="392" cy="171.53" r="16"/><circle cx="399.2" cy="171.53" r="16"/><circle cx="406.4" cy="171.53" r="16"/><circle cx="413.6" cy="171.53" r="16"/><circle cx="420.8" cy="171.53" r="16"/><circle cx="428" cy="171.53" r="16"/><circle cx="435.2" cy="171.53" r="16"/><circle cx="442.4" cy="171.53" r="16"/><circle cx="449.6" cy="171.53" r="16"/><circle cx="456.8" cy="171.53" r="16"/><circle cx="464" cy="171.53" r="16"/><circle cx="471.2" cy="171.53" r="16"/><circle cx="478.4" cy="171.53" r="16"/><circle cx="485.6" cy="171.53" r="16"/><circle cx="492.8" cy="171.53" r="16"/><circle cx="500" cy="171.53" r="16"/><circle cx="507.2" cy="171.53" r="16"/><circle cx="514.4" cy="171.53" r="16"/><circle cx="521.6" cy="171.53" r="16"/><circle cx="528.8" cy="171.53" r="16"/><circle cx="536" cy="171.53" r="16"/><circle cx="543.2" cy="171.53" r="16"/><circle cx="550.4" cy="171.53" r="16"/><circle cx="557.6" cy="171.53" r="16"/><circle cx="564.8" cy="171.53" r="16"/><circle cx="572" cy="171.53" r="16"/><circle cx="579.2" cy="171.53" r="16"/><circle cx="586.4" cy="171.53" r="16"/><circle cx="593.6" cy="171.53" r="16"/><circle cx="600.8" cy="171.53" r="16"/><circle cx="608" cy="171.53" r="16"/><circle cx="615.2" cy="171.53" r="16"/><circle cx="622.4" cy="171.53" r="16"/><circle cx="629.6" cy="171.53" r="16"/><circle cx="636.8" cy="171.53" r="16"/><circle cx="644" cy="171.53" r="16"/><circle cx="651.2" cy="171.53" r="16"/><circle cx="658.4" cy="171.53" r="16"/><circle cx="665.6" cy="171.53" r="16"/><circle cx="672.8" cy="171.53" r="16"/><circle cx="680" cy="171.53" r="16"/><circle cx="687.2" cy="171.53" r="16"/><circle cx="694.4" cy="171.53" r="16"/><circle cx="701.6" cy="171.53" r="16"/><circle cx="708.8" cy="171.53" r="16"/><circle cx="716" cy="171.53" r="16"/><circle cx="723.2" cy="171.53" r="16"/><circle cx="730.4" cy="171.53" r="16"/><circle cx="737.6" cy="171.53" r="16"/><circle cx="744.8" cy="171.53" r="16"/><circle cx="752" cy="171.53" r="16"/><circle cx="759.2" cy="171.53" r="16"/><circle cx="766.4" cy="171.53" r="16"/><circle cx="773.6" cy="171.53" r="16"/><circle cx="780.8" cy="171.53" r="16"/><circle cx="788" cy="171.53" r="16"/><circle cx="795.2" cy="171.53" r="16"/><circle cx="802.4" cy="171.53" r="16"/><circle cx="809.6" cy="171.53" r="16"/><circle cx="816.8" cy="171.54" r="16"/><circle cx="824" cy="171.54" r="16"/><circle cx="831.2" cy="171.55" r="16"/><circle cx="838.4" cy="171.55" r="16"/><circle cx="845.6" cy="171.56" r="16"/><circle cx="852.8" cy="171.57" r="16"/><circle cx="860" cy="171.58" r="16"/><circle cx="867.2" cy="171.59" r="16"/><circle cx="874.4" cy="171.6" r="16"/><circle cx="881.6" cy="171.62" r="16"/><circle cx="888.8" cy="171.63" r="16"/><circle cx="896" cy="171.64" r="16"/><circle cx="903.2" cy="171.66" r="16"/><circle cx="910.4" cy="171.67" r="16"/><circle cx="917.6" cy="171.69" r="16"/><circle cx="924.8" cy="171.7" r="16"/><circle cx="932" cy="171.72" r="16"/><circle cx="939.2" cy="171.74" r="16"/><circle cx="946.4" cy="171.76" r="16"/><circle cx="953.6" cy="171.77" r="16"/><circle cx="960.8" cy="171.79" r="16"/><circle cx="968" cy="171.81" r="16"/><circle cx="975.2" cy="171.83" r="16"/><circle cx="982.4" cy="171.85" r="16"/><circle cx="989.6" cy="171.87" r="16"/><circle cx="996.8" cy="171.89" r="16"/><circle cx="1004" cy="171.91" r="16"/><circle cx="1011.2" cy="171.93" r="16"/><circle cx="1018.4" cy="171.95" r="16"/><circle cx="1025.6" cy="171.97" r="16"/><circle cx="1032.8" cy="171.99" r="16"/><circle cx="1040" cy="172.01" r="16"/><circle cx="1047.2" cy="172.03" r="16"/><circle cx="1054.4" cy="172.05" r="16"/><circle cx="1061.6" cy="172.07" r="16"/><circle cx="1068.8" cy="172.09" r="16"/><circle cx="1076" cy="172.11" r="16"/><circle cx="1083.2" cy="172.13" r="16"/><circle cx="1090.4" cy="172.15" r="16"/><circle cx="1097.6" cy="172.17" r="16"/><circle cx="1104.8" cy="172.18" r="16"/><circle cx="1112" cy="172.2" r="16"/><circle cx="1119.2" cy="172.22" r="16"/><circle cx="1126.4" cy="172.24" r="16"/><circle cx="1133.6" cy="172.26" r="16"/><circle cx="1140.8" cy="172.28" r="16"/><circle cx="1148" cy="172.3" r="16"/><circle cx="1155.2" cy="172.32" r="16"/><circle cx="1162.4" cy="172.34" r="16"/><circle cx="1169.6" cy="172.36" r="16"/><circle cx="1176.8" cy="172.39" r="16"/><circle cx="1184" cy="172.41" r="16"/><circle cx="1191.2" cy="172.43" r="16"/><circle cx="1198.4" cy="172.45" r="16"/><circle cx="1205.6" cy="172.48" r="16"/><circle cx="1212.8" cy="172.5" r="16"/><circle cx="1220" cy="172.53" r="16"/><circle cx="1227.2" cy="172.56" r="16"/><circle cx="1234.4" cy="172.58" r="16"/><circle cx="1241.6" cy="172.61" r="16"/><circle cx="1248.8" cy="172.64" r="16"/><circle cx="1256" cy="172.67" r="16"/><circle cx="1263.2" cy="172.7" r="16"/><circle cx="1270.4" cy="172.73" r="16"/><circle cx="1277.6" cy="172.77" r="16"/><circle cx="1284.8" cy="172.8" r="16"/><circle cx="1292" cy="172.84" r="16"/><circle cx="1299.2" cy="172.87" r="16"/><circle cx="1306.4" cy="172.91" r="16"/><circle cx="1313.6" cy="172.95" r="16"/><circle cx="1320.8" cy="172.99" r="16"/><circle cx="1328" cy="173.03" r="16"/><circle cx="1335.2" cy="173.08" r="16"/><circle cx="1342.4" cy="173.12" r="16"/><circle cx="1349.6" cy="173.17" r="16"/><circle cx="1356.8" cy="173.22" r="16"/><circle cx="1364" cy="173.27" r="16"/><circle cx="1371.2" cy="173.32" r="16"/><circle cx="1378.4" cy="173.38" r="16"/><circle cx="1385.6" cy="173.45" r="16"/><circle cx="1392.8" cy="173.53" r="16"/><circle cx="1400" cy="173.61" r="16"/><circle cx="1407.2" cy="173.7" r="16"/><circle cx="1414.4" cy="173.79" r="16"/><circle cx="1421.6" cy="173.9" r="16"/><circle cx="1428.8" cy="174.01" r="16"/><circle cx="1436" cy="174.14" r="16"/><circle cx="1443.2" cy="174.27" r="16"/><circle cx="1450.4" cy="174.41" r="16"/><circle cx="1457.6" cy="174.56" r="16"/><circle cx="1464.8" cy="174.71" r="16"/><circle cx="1472" cy="174.88" r="16"/><circle cx="1479.2" cy="175.06" r="16"/><circle cx="1486.4" cy="175.25" r="16"/><circle cx="1493.6" cy="175.45" r="16"/><circle cx="1500.8" cy="175.66" r="16"/><circle cx="1508" cy="175.88" r="16"/><circle cx="1515.2" cy="176.15" r="16"/><circle cx="1522.4" cy="176.49" r="16"/><circle cx="1529.6" cy="176.9" r="16"/><circle cx="1536.8" cy="177.38" r="16"/><circle cx="1544" cy="177.92" r="16"/><circle cx="1551.2" cy="178.52" r="16"/><circle cx="1558.4" cy="179.17" r="16"/><circle cx="1565.6" cy="179.87" r="16"/><circle cx="1572.8" cy="180.61" r="16"/><circle cx="1580" cy="181.39" r="16"/><circle cx="1587.2" cy="182.24" r="16"/><circle cx="1594.4" cy="183.18" r="16"/><circle cx="1601.6" cy="184.23" r="16"/><circle cx="1608.8" cy="185.41" r="16"/><circle cx="1616" cy="186.73" r="16"/><circle cx="1623.2" cy="188.2" r="16"/><circle cx="1630.4" cy="189.84" r="16"/><circle cx="1637.6" cy="191.66" r="16"/><circle cx="1644.8" cy="193.68" r="16"/><circle cx="1652" cy="195.9" r="16"/><circle cx="1659.2" cy="198.67" r="16"/><circle cx="1666.4" cy="202.28" r="16"/><circle cx="1673.6" cy="206.69" r="16"/><circle cx="1680.8" cy="211.84" r="16"/><circle cx="1688" cy="217.69" r="16"/><circle cx="1695.2" cy="224.21" r="16"/><circle cx="1702.4" cy="231.34" r="16"/><circle cx="1709.6" cy="239.05" r="16"/><circle cx="1716.8" cy="247.28" r="16"/><circle cx="1724" cy="255.99" r="16"/><circle cx="1731.2" cy="265.17" r="16"/><circle cx="1738.4" cy="278.32" r="16"/><circle cx="1745.6" cy="294.57" r="16"/><circle cx="1752.8" cy="311.98" r="16"/><circle cx="1760" cy="332.88" r="16"/><circle cx="1767.2" cy="356.67" r="16"/><circle cx="1774.4" cy="388.26" r="16"/><circle cx="1781.6" cy="425.26" r="16"/><circle cx="1788.8" cy="464.05" r="16"/><circle cx="1796" cy="504.68" r="16"/><circle cx="1803.2" cy="557.49" r="16"/><circle cx="1810.4" cy="618.44" r="16"/><circle cx="1817.6" cy="690.99" r="16"/><circle cx="1824.8" cy="776.88" r="16"/><circle cx="1832" cy="876.71" r="16"/><circle cx="1839.2" cy="995.11" r="16"/><circle cx="1846.4" cy="1133.25" r="16"/><circle cx="1853.6" cy="1299.24" r="16"/><circle cx="1860.8" cy="1490.2" r="16"/></g>
</g>
<path d="M1885.5 290.6 H2006.4" stroke="#515151" stroke-width="11" stroke-linecap="round"/><circle cx="1946" cy="290.6" r="16" fill="#515151"/>
<path d="M1885.5 380.3 H2006.4" stroke="#F03E3E" stroke-width="11" stroke-linecap="round"/><circle cx="1946" cy="380.3" r="16" fill="#F03E3E"/>
<path d="M1885.5 470 H2006.4" stroke="#1A6FDF" stroke-width="11" stroke-linecap="round"/><circle cx="1946" cy="470" r="16" fill="#1A6FDF"/>
<path d="M1885.5 559.7 H2006.4" stroke="#37AD6B" stroke-width="11" stroke-linecap="round"/><circle cx="1946" cy="559.7" r="16" fill="#37AD6B"/>
<path d="M1885.5 649.4 H2006.4" stroke="#B177DE" stroke-width="11" stroke-linecap="round"/><circle cx="1946" cy="649.4" r="16" fill="#B177DE"/>
<path d="M1885.5 739.1 H2006.4" stroke="#FF8000" stroke-width="11" stroke-linecap="round"/><circle cx="1946" cy="739.1" r="16" fill="#FF8000"/>
<path d="M1885.5 828.8 H2006.4" stroke="#FF007F" stroke-width="11" stroke-linecap="round"/><circle cx="1946" cy="828.8" r="16" fill="#FF007F"/>
<g fill="#000">
<g transform="translate(11.04,81.68) scale(0.9910,1.0145)"><text font-family="Liberation Sans, Arial, sans-serif" font-weight="bold" font-size="74">(a)</text></g>
<g transform="translate(302.94,574.59) scale(0.9908,1.0109)"><text font-family="Liberation Sans, Arial, sans-serif" font-weight="bold" font-size="74">(b)</text></g>
<g transform="translate(136.78,1511.42) scale(0.9650,1.0500)"><text font-family="Liberation Sans, Arial, sans-serif" font-weight="bold" font-size="54">0</text></g>
<g transform="translate(136.78,1395.35) scale(0.9650,1.0500)"><text font-family="Liberation Sans, Arial, sans-serif" font-weight="bold" font-size="54">2</text></g>
<g transform="translate(134.85,1279.26) scale(0.9650,1.0500)"><text font-family="Liberation Sans, Arial, sans-serif" font-weight="bold" font-size="54">4</text></g>
<g transform="translate(136.78,1163.18) scale(0.9650,1.0500)"><text font-family="Liberation Sans, Arial, sans-serif" font-weight="bold" font-size="54">6</text></g>
<g transform="translate(136.78,1047.11) scale(0.9650,1.0500)"><text font-family="Liberation Sans, Arial, sans-serif" font-weight="bold" font-size="54">8</text></g>
<g transform="translate(107.83,931.02) scale(0.9650,1.0500)"><text font-family="Liberation Sans, Arial, sans-serif" font-weight="bold" font-size="54">10</text></g>
<g transform="translate(107.83,814.94) scale(0.9650,1.0500)"><text font-family="Liberation Sans, Arial, sans-serif" font-weight="bold" font-size="54">12</text></g>
<g transform="translate(105.9,698.87) scale(0.9650,1.0500)"><text font-family="Liberation Sans, Arial, sans-serif" font-weight="bold" font-size="54">14</text></g>
<g transform="translate(107.83,582.78) scale(0.9650,1.0500)"><text font-family="Liberation Sans, Arial, sans-serif" font-weight="bold" font-size="54">16</text></g>
<g transform="translate(107.83,466.7) scale(0.9650,1.0500)"><text font-family="Liberation Sans, Arial, sans-serif" font-weight="bold" font-size="54">18</text></g>
<g transform="translate(107.83,350.63) scale(0.9650,1.0500)"><text font-family="Liberation Sans, Arial, sans-serif" font-weight="bold" font-size="54">20</text></g>
<g transform="translate(107.83,234.55) scale(0.9650,1.0500)"><text font-family="Liberation Sans, Arial, sans-serif" font-weight="bold" font-size="54">22</text></g>
<g transform="translate(105.9,118.46) scale(0.9650,1.0500)"><text font-family="Liberation Sans, Arial, sans-serif" font-weight="bold" font-size="54">24</text></g>
<g transform="translate(175.22,1584.43) scale(0.9700,1.0450)"><text font-family="Liberation Sans, Arial, sans-serif" font-weight="bold" font-size="54">0.0</text></g>
<g transform="translate(318.74,1584.43) scale(0.9700,1.0450)"><text font-family="Liberation Sans, Arial, sans-serif" font-weight="bold" font-size="54">0.1</text></g>
<g transform="translate(463.23,1584.43) scale(0.9700,1.0450)"><text font-family="Liberation Sans, Arial, sans-serif" font-weight="bold" font-size="54">0.2</text></g>
<g transform="translate(607.23,1584.43) scale(0.9700,1.0450)"><text font-family="Liberation Sans, Arial, sans-serif" font-weight="bold" font-size="54">0.3</text></g>
<g transform="translate(750.25,1584.43) scale(0.9700,1.0450)"><text font-family="Liberation Sans, Arial, sans-serif" font-weight="bold" font-size="54">0.4</text></g>
<g transform="translate(894.74,1584.43) scale(0.9700,1.0450)"><text font-family="Liberation Sans, Arial, sans-serif" font-weight="bold" font-size="54">0.5</text></g>
<g transform="translate(1039.22,1584.43) scale(0.9700,1.0450)"><text font-family="Liberation Sans, Arial, sans-serif" font-weight="bold" font-size="54">0.6</text></g>
<g transform="translate(1183.22,1584.43) scale(0.9700,1.0450)"><text font-family="Liberation Sans, Arial, sans-serif" font-weight="bold" font-size="54">0.7</text></g>
<g transform="translate(1327.22,1584.43) scale(0.9700,1.0450)"><text font-family="Liberation Sans, Arial, sans-serif" font-weight="bold" font-size="54">0.8</text></g>
<g transform="translate(1471.22,1584.43) scale(0.9700,1.0450)"><text font-family="Liberation Sans, Arial, sans-serif" font-weight="bold" font-size="54">0.9</text></g>
<g transform="translate(1614.74,1584.43) scale(0.9700,1.0450)"><text font-family="Liberation Sans, Arial, sans-serif" font-weight="bold" font-size="54">1.0</text></g>
<g transform="translate(1758.25,1584.43) scale(0.9700,1.0450)"><text font-family="Liberation Sans, Arial, sans-serif" font-weight="bold" font-size="54">1.1</text></g>
<g transform="translate(1902.74,1584.43) scale(0.9700,1.0450)"><text font-family="Liberation Sans, Arial, sans-serif" font-weight="bold" font-size="54">1.2</text></g>
<g transform="translate(920.6,1685.89) scale(1.0013,1.0091)"><text font-family="Liberation Sans, Arial, sans-serif" font-weight="bold" font-size="60">Voltage / V</text></g>
<g transform="translate(78.1,1171.9) rotate(-90) scale(0.9661,1.0300)"><text font-family="Liberation Sans, Arial, sans-serif" font-weight="bold" font-size="61">Current density / mA·cm<tspan dx="14" dy="-19" font-size="48" font-weight="normal" stroke="#000" stroke-width="0.8">−</tspan><tspan dx="-1" dy="-6" font-size="42">2</tspan></text></g>
<g transform="translate(1746.51,219.17) scale(0.9971,1.0300)"><text font-family="Liberation Sans, Arial, sans-serif" font-weight="bold" font-size="54">ETL doping concentration</text></g>
<g transform="translate(2019.75,309) scale(0.9863,1.0670)"><text font-family="Liberation Sans, Arial, sans-serif" font-weight="normal" font-size="54" stroke="#000" stroke-width="0.5">N<tspan font-size="37" dy="14">D</tspan><tspan dy="-14">=10</tspan><tspan font-size="37" dy="-20.5">14</tspan><tspan dy="20.5"> cm</tspan><tspan font-size="37" dy="-19">−3</tspan></text></g>
<g transform="translate(2019.75,398.7) scale(0.9863,1.0670)"><text font-family="Liberation Sans, Arial, sans-serif" font-weight="normal" font-size="54" stroke="#000" stroke-width="0.5">N<tspan font-size="37" dy="14">D</tspan><tspan dy="-14">=10</tspan><tspan font-size="37" dy="-20.5">15</tspan><tspan dy="20.5"> cm</tspan><tspan font-size="37" dy="-19">−3</tspan></text></g>
<g transform="translate(2019.75,488.4) scale(0.9863,1.0670)"><text font-family="Liberation Sans, Arial, sans-serif" font-weight="normal" font-size="54" stroke="#000" stroke-width="0.5">N<tspan font-size="37" dy="14">D</tspan><tspan dy="-14">=10</tspan><tspan font-size="37" dy="-20.5">16</tspan><tspan dy="20.5"> cm</tspan><tspan font-size="37" dy="-19">−3</tspan></text></g>
<g transform="translate(2019.75,578.1) scale(0.9863,1.0670)"><text font-family="Liberation Sans, Arial, sans-serif" font-weight="normal" font-size="54" stroke="#000" stroke-width="0.5">N<tspan font-size="37" dy="14">D</tspan><tspan dy="-14">=10</tspan><tspan font-size="37" dy="-20.5">17</tspan><tspan dy="20.5"> cm</tspan><tspan font-size="37" dy="-19">−3</tspan></text></g>
<g transform="translate(2019.75,667.8) scale(0.9863,1.0670)"><text font-family="Liberation Sans, Arial, sans-serif" font-weight="normal" font-size="54" stroke="#000" stroke-width="0.5">N<tspan font-size="37" dy="14">D</tspan><tspan dy="-14">=10</tspan><tspan font-size="37" dy="-20.5">18</tspan><tspan dy="20.5"> cm</tspan><tspan font-size="37" dy="-19">−3</tspan></text></g>
<g transform="translate(2019.75,757.5) scale(0.9863,1.0670)"><text font-family="Liberation Sans, Arial, sans-serif" font-weight="normal" font-size="54" stroke="#000" stroke-width="0.5">N<tspan font-size="37" dy="14">D</tspan><tspan dy="-14">=10</tspan><tspan font-size="37" dy="-20.5">19</tspan><tspan dy="20.5"> cm</tspan><tspan font-size="37" dy="-19">−3</tspan></text></g>
<g transform="translate(2019.75,847.2) scale(0.9863,1.0670)"><text font-family="Liberation Sans, Arial, sans-serif" font-weight="normal" font-size="54" stroke="#000" stroke-width="0.5">N<tspan font-size="37" dy="14">D</tspan><tspan dy="-14">=10</tspan><tspan font-size="37" dy="-20.5">20</tspan><tspan dy="20.5"> cm</tspan><tspan font-size="37" dy="-19">−3</tspan></text></g>
<g transform="translate(328.44,1339.76) scale(1.1100,1.0300)"><text font-family="Liberation Sans, Arial, sans-serif" font-weight="bold" font-size="24" stroke="#000" stroke-width="0.4">12</text></g>
<g transform="translate(328.44,1280.76) scale(1.1100,1.0300)"><text font-family="Liberation Sans, Arial, sans-serif" font-weight="bold" font-size="24" stroke="#000" stroke-width="0.4">13</text></g>
<g transform="translate(327.33,1221.76) scale(1.1100,1.0300)"><text font-family="Liberation Sans, Arial, sans-serif" font-weight="bold" font-size="24" stroke="#000" stroke-width="0.4">14</text></g>
<g transform="translate(328.44,1162.76) scale(1.1100,1.0300)"><text font-family="Liberation Sans, Arial, sans-serif" font-weight="bold" font-size="24" stroke="#000" stroke-width="0.4">15</text></g>
<g transform="translate(328.44,1103.76) scale(1.1100,1.0300)"><text font-family="Liberation Sans, Arial, sans-serif" font-weight="bold" font-size="24" stroke="#000" stroke-width="0.4">16</text></g>
<g transform="translate(328.44,1044.76) scale(1.1100,1.0300)"><text font-family="Liberation Sans, Arial, sans-serif" font-weight="bold" font-size="24" stroke="#000" stroke-width="0.4">17</text></g>
<g transform="translate(328.44,985.75) scale(1.1100,1.0300)"><text font-family="Liberation Sans, Arial, sans-serif" font-weight="bold" font-size="24" stroke="#000" stroke-width="0.4">18</text></g>
<g transform="translate(328.44,926.75) scale(1.1100,1.0300)"><text font-family="Liberation Sans, Arial, sans-serif" font-weight="bold" font-size="24" stroke="#000" stroke-width="0.4">19</text></g>
<g transform="translate(328.44,867.75) scale(1.1100,1.0300)"><text font-family="Liberation Sans, Arial, sans-serif" font-weight="bold" font-size="24" stroke="#000" stroke-width="0.4">20</text></g>
<g transform="translate(328.44,808.75) scale(1.1100,1.0300)"><text font-family="Liberation Sans, Arial, sans-serif" font-weight="bold" font-size="24" stroke="#000" stroke-width="0.4">21</text></g>
<g transform="translate(328.44,749.75) scale(1.1100,1.0300)"><text font-family="Liberation Sans, Arial, sans-serif" font-weight="bold" font-size="24" stroke="#000" stroke-width="0.4">22</text></g>
<g transform="translate(328.44,690.75) scale(1.1100,1.0300)"><text font-family="Liberation Sans, Arial, sans-serif" font-weight="bold" font-size="24" stroke="#000" stroke-width="0.4">23</text></g>
<g transform="translate(327.33,631.75) scale(1.1100,1.0300)"><text font-family="Liberation Sans, Arial, sans-serif" font-weight="bold" font-size="24" stroke="#000" stroke-width="0.4">24</text></g>
<g transform="translate(429.53,1379.2) scale(1.1800,1.0200)"><text font-family="Liberation Sans, Arial, sans-serif" font-weight="bold" font-size="28">10<tspan font-size="18" dy="-12">14</tspan></text></g>
<g transform="translate(580.63,1379.2) scale(1.1800,1.0200)"><text font-family="Liberation Sans, Arial, sans-serif" font-weight="bold" font-size="28">10<tspan font-size="18" dy="-12">15</tspan></text></g>
<g transform="translate(731.73,1379.2) scale(1.1800,1.0200)"><text font-family="Liberation Sans, Arial, sans-serif" font-weight="bold" font-size="28">10<tspan font-size="18" dy="-12">16</tspan></text></g>
<g transform="translate(883.42,1379.2) scale(1.1800,1.0200)"><text font-family="Liberation Sans, Arial, sans-serif" font-weight="bold" font-size="28">10<tspan font-size="18" dy="-12">17</tspan></text></g>
<g transform="translate(1033.93,1379.2) scale(1.1800,1.0200)"><text font-family="Liberation Sans, Arial, sans-serif" font-weight="bold" font-size="28">10<tspan font-size="18" dy="-12">18</tspan></text></g>
<g transform="translate(1185.03,1379.2) scale(1.1800,1.0200)"><text font-family="Liberation Sans, Arial, sans-serif" font-weight="bold" font-size="28">10<tspan font-size="18" dy="-12">19</tspan></text></g>
<g transform="translate(1336.72,1379.2) scale(1.1800,1.0200)"><text font-family="Liberation Sans, Arial, sans-serif" font-weight="bold" font-size="28">10<tspan font-size="18" dy="-12">20</tspan></text></g>
<g transform="translate(424.9,1122.7) scale(1.1000,1.0435)"><text font-family="Liberation Sans, Arial, sans-serif" font-weight="normal" font-size="33">15.5</text></g>
<g transform="translate(575.62,1098) scale(1.1271,1.0348)"><text font-family="Liberation Sans, Arial, sans-serif" font-weight="normal" font-size="33">15.9</text></g>
<g transform="translate(726.49,984.6) scale(1.1033,1.0130)"><text font-family="Liberation Sans, Arial, sans-serif" font-weight="normal" font-size="33">17.8</text></g>
<g transform="translate(877.32,935.8) scale(1.1267,1.0304)"><text font-family="Liberation Sans, Arial, sans-serif" font-weight="normal" font-size="33">18.6</text></g>
<g transform="translate(1027.52,818.9) scale(1.1377,1.0174)"><text font-family="Liberation Sans, Arial, sans-serif" font-weight="normal" font-size="33">20.6</text></g>
<g transform="translate(1179.57,712.3) scale(1.1131,1.0000)"><text font-family="Liberation Sans, Arial, sans-serif" font-weight="normal" font-size="33">22.4</text></g>
<g transform="translate(1330.68,702.9) scale(1.1115,1.0304)"><text font-family="Liberation Sans, Arial, sans-serif" font-weight="normal" font-size="33">22.6</text></g>
<g transform="translate(623.85,1428) scale(1.1726,1.0400)"><text font-family="Liberation Sans, Arial, sans-serif" font-weight="bold" font-size="28">ETL doping concentration / mA·cm<tspan dx="2" dy="-12" font-size="19"><tspan font-weight="normal">−</tspan>2</tspan></text></g>
<g transform="translate(314.3,1033.85) rotate(-90) scale(1.0272,1.2200)"><text font-family="Liberation Sans, Arial, sans-serif" font-weight="bold" font-size="28">PCE / %</text></g>
</g>
</svg>
</body></html>
